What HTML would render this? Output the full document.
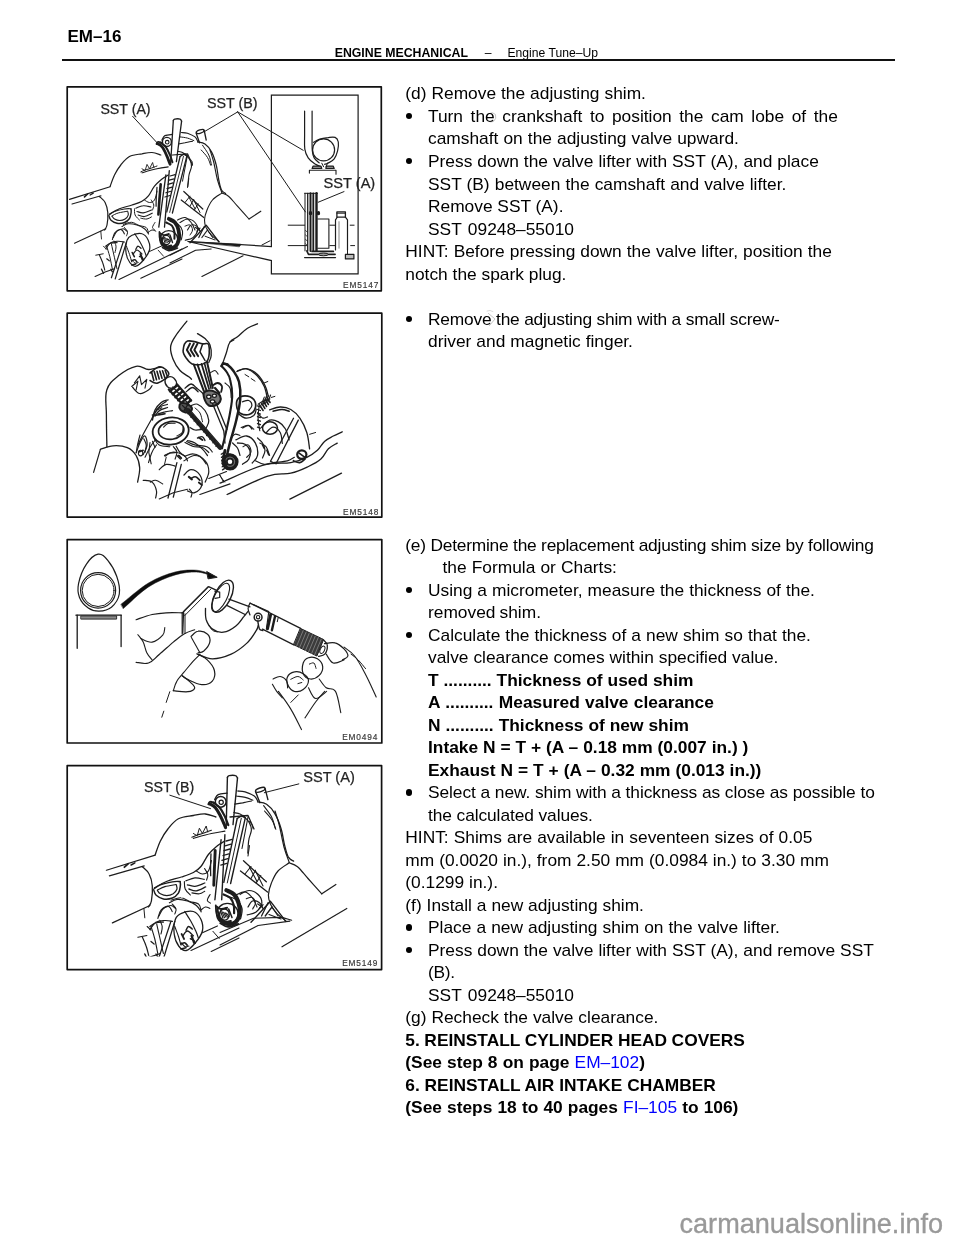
<!DOCTYPE html>
<html><head><meta charset="utf-8"><title>EM-16</title>
<style>
html,body{margin:0;padding:0;background:#fff;}
body{width:960px;height:1242px;position:relative;overflow:hidden;font-family:"Liberation Sans",sans-serif;color:#000;}
.t{position:absolute;white-space:pre;font-size:17.35px;line-height:22.0px;height:22.0px;}
.bu{position:absolute;width:6.7px;height:6.7px;border-radius:50%;background:#000;}
.h1{position:absolute;left:67.5px;top:26.71px;font-size:17px;line-height:20px;font-weight:bold;white-space:pre;}
.h2{position:absolute;left:334.7px;top:45.54px;font-size:12.3px;line-height:14px;font-weight:bold;white-space:pre;}
.h3{position:absolute;left:484.7px;top:45.59px;font-size:12.15px;line-height:14px;white-space:pre;}
.h4{position:absolute;left:507.5px;top:45.59px;font-size:12.15px;line-height:14px;white-space:pre;}
.rule{position:absolute;left:62px;top:59.2px;width:832.5px;height:1.7px;background:#111;}
.wm{position:absolute;left:679.5px;top:1209.44px;font-size:27.1px;line-height:30px;color:#999;-webkit-text-stroke:0.35px #999;white-space:pre;}
svg{position:absolute;left:0;top:0;}
#pg{position:absolute;left:0;top:0;width:960px;height:1242px;will-change:transform;}
</style></head><body><div id="pg">
<div class="h1">EM–16</div>
<div class="h2">ENGINE MECHANICAL</div>
<div class="h3">–</div>
<div class="h4">Engine Tune–Up</div>
<div class="rule"></div>
<svg width="960" height="1242" viewBox="0 0 960 1242" style="font-family:'Liberation Sans',sans-serif" stroke-linecap="round" stroke-linejoin="round">
<defs><filter id="soft" filterUnits="userSpaceOnUse" x="50" y="70" width="350" height="920"><feGaussianBlur stdDeviation="0.38"/></filter></defs>
<g filter="url(#soft)">
<g id="fig1">

<path d="M187.9,241.5 L271.4,246.5 L271.4,95.1 L358.1,95.1 L358.1,273.9 L271.4,273.9 L271.4,260.6 Z" fill="#fff" stroke="#1c1c1c" stroke-width="1.2" stroke-linejoin="miter"/>
<path d="M187.9,241.5 L241.2,244.3 L239.5,246.5 Z" fill="#1c1c1c" stroke="#1c1c1c" stroke-width="0.6"/>
<text x="100.4" y="113.8" style="font-size:14.2px;letter-spacing:0px;" fill="#222" stroke="#222" stroke-width="0.25">SST (A)</text>
<text x="207" y="107.6" style="font-size:14.3px;letter-spacing:0px;" fill="#222" stroke="#222" stroke-width="0.25">SST (B)</text>
<text x="323.6" y="188.4" style="font-size:14.6px;letter-spacing:0px;" fill="#222" stroke="#222" stroke-width="0.25">SST (A)</text>
<text x="343.1" y="288.2" style="font-size:8.3px;letter-spacing:0.85px;" fill="#3a3a3a" stroke="#3a3a3a" stroke-width="0.18">EM5147</text>
<path d="M132.6,116.3 L158.3,144.1" fill="none" stroke="#1c1c1c" stroke-width="1"/>
<path d="M237.7,111.9 L204.3,131.7" stroke="#1c1c1c" stroke-width="1" fill="none"/>
<path d="M237.7,111.9 L303.2,150.3" fill="none" stroke="#1c1c1c" stroke-width="1"/>
<path d="M237.7,111.9 L305.4,211.9" fill="none" stroke="#1c1c1c" stroke-width="1"/>
<path d="M344,191.6 L318.3,202.2" fill="none" stroke="#1c1c1c" stroke-width="1"/>
<path d="M304.6,111 C304.6,115 304.6,126.1 304.6,133.1 C304.7,140.1 304.2,144.5 304.8,149.1 C305.5,153.6 306.4,155.2 308.2,157.9 C310,160.6 312.4,162.1 314.7,163.8 C317.1,165.4 319.8,166.2 320.9,166.8" fill="none" stroke="#1c1c1c" stroke-width="1.2"/>
<path d="M312.1,111 C312.1,115 312.1,125.8 312.1,133.1 C312.1,140.4 311.9,146.3 312.3,150.8 C312.7,155.4 312.9,155.7 314.2,157.9 C315.5,160.1 318.3,162 319.2,162.9" fill="none" stroke="#1c1c1c" stroke-width="1.2"/>
<ellipse cx="323.6" cy="149.9" rx="11" ry="11" transform="rotate(0 323.6 149.9)" fill="none" stroke="#1c1c1c" stroke-width="1.2"/>
<path d="M313.5,142.3 C314.5,141.8 316.5,140.2 319.2,139.3 C321.8,138.4 325.1,137.9 328,137.6 C330.9,137.2 333.2,136.6 335.1,137.4 C337,138.2 337.8,139.5 338.3,142 C338.7,144.4 338.3,147.7 337.6,150.8 C336.8,153.9 336,156.5 334.2,158.8 C332.5,161.1 329.8,162.2 328,163.2 C326.2,164.2 325.1,164.1 324.5,164.3" fill="none" stroke="#1c1c1c" stroke-width="1.2"/>
<path d="M313,166.2 L320.9,166.2 L321.8,168.5 L312.1,168.5 Z" fill="#888" stroke="#1c1c1c" stroke-width="1.2"/>
<path d="M326.2,166.2 L333.3,166.2 L334.2,168.5 L325.9,168.5 Z" fill="#888" stroke="#1c1c1c" stroke-width="1.2"/>
<path d="M309.4,173.1 L309.4,170.3 L336,170.3 L336,174.2" fill="none" stroke="#1c1c1c" stroke-width="1.1"/>
<path d="M321.8,163.2 L323.6,166.8" fill="none" stroke="#1c1c1c" stroke-width="1"/>
<path d="M327.5,162.9 L326.2,166.8" fill="none" stroke="#1c1c1c" stroke-width="1"/>
<path d="M305,193.3 L305,250.9" fill="none" stroke="#1c1c1c" stroke-width="1"/>
<path d="M307.7,193.3 L307.7,250.9" fill="none" stroke="#1c1c1c" stroke-width="1.3"/>
<path d="M310.5,193.3 L310.5,250.9" fill="none" stroke="#1c1c1c" stroke-width="2"/>
<path d="M313.3,193.3 L313.3,250.9" fill="none" stroke="#1c1c1c" stroke-width="1.8"/>
<path d="M316.5,193.3 L316.5,250.9" fill="none" stroke="#1c1c1c" stroke-width="2.4"/>
<path d="M304.6,193.3 L317.4,193.3" fill="none" stroke="#1c1c1c" stroke-width="1"/>
<path d="M288.2,225.2 L304.6,225.2" fill="none" stroke="#1c1c1c" stroke-width="1"/>
<path d="M288.2,245.6 L306.8,245.6" fill="none" stroke="#1c1c1c" stroke-width="1"/>
<path d="M350.2,225.2 L354.1,225.2" fill="none" stroke="#1c1c1c" stroke-width="1"/>
<path d="M350.7,245.6 L354.6,245.6" fill="none" stroke="#1c1c1c" stroke-width="1"/>
<path d="M317.8,219 L328.9,219 L328.9,248.2 L317.8,248.2" fill="none" stroke="#1c1c1c" stroke-width="1.1"/>
<path d="M329.8,225.2 L335.1,225.2" fill="none" stroke="#1c1c1c" stroke-width="1"/>
<path d="M329.8,245.6 L335.1,245.6" fill="none" stroke="#1c1c1c" stroke-width="1"/>
<path d="M335.5,250 L335.5,219.9 L337.2,217.2 L345.4,217.2 L347.5,219.9 L347.5,250" fill="none" stroke="#1c1c1c" stroke-width="1.2"/>
<path d="M336.9,217.2 L336.9,211.9 L345.4,211.9 L345.4,217.2" fill="none" stroke="#1c1c1c" stroke-width="1.3"/>
<path d="M336.9,213.2 L345.4,213.2" fill="none" stroke="#1c1c1c" stroke-width="1"/>
<path d="M339,221.7 L339,248.2" fill="none" stroke="#666" stroke-width="0.8"/>
<path d="M306.8,250.9 L308.5,254.4 L335.1,254.4" fill="none" stroke="#1c1c1c" stroke-width="1.6"/>
<path d="M304.6,257.6 L335.5,257.6" fill="none" stroke="#1c1c1c" stroke-width="1.3"/>
<path d="M312.1,251.4 L333.3,251.4" fill="none" stroke="#1c1c1c" stroke-width="1.8"/>
<ellipse cx="323.6" cy="254.4" rx="5" ry="1.4" transform="rotate(0 323.6 254.4)" fill="#999" stroke="#1c1c1c" stroke-width="1"/>
<path d="M345.4,254.4 L353.9,254.4 L353.9,258.9 L345.4,258.9 Z" fill="#bbb" stroke="#1c1c1c" stroke-width="1.2"/>
<path d="M347.5,250 L347.5,254.4" fill="none" stroke="#1c1c1c" stroke-width="1"/>
<ellipse cx="310.5" cy="213.2" rx="1.2" ry="1.6" transform="rotate(0 310.5 213.2)" fill="#1c1c1c" stroke="#1c1c1c" stroke-width="1.1"/>
<ellipse cx="318.5" cy="213.2" rx="1.1" ry="1.6" transform="rotate(0 318.5 213.2)" fill="#1c1c1c" stroke="#1c1c1c" stroke-width="1.1"/>
<path d="M305.5,230.5 L307.1,231.9" fill="none" stroke="#1c1c1c" stroke-width="0.8"/>
<path d="M305.5,234.9 L307.1,236.4" fill="none" stroke="#1c1c1c" stroke-width="0.8"/>
<path d="M305.5,239.4 L307.1,240.8" fill="none" stroke="#1c1c1c" stroke-width="0.8"/>
<path d="M305.5,243.8 L307.1,245.2" fill="none" stroke="#1c1c1c" stroke-width="0.8"/>
<path d="M173.3,120.6 L170.6,163.8" fill="none" stroke="#1c1c1c" stroke-width="1.3"/>
<path d="M181.6,121.2 L176.4,161.7" fill="none" stroke="#1c1c1c" stroke-width="1.3"/>
<path d="M173.3,120.6 C173.5,120.3 173.6,119.4 174.8,119.1 C176.1,118.8 178.8,118.7 180.1,119.1 C181.3,119.5 181.3,120.8 181.6,121.2" fill="none" stroke="#1c1c1c" stroke-width="1.3"/>
<path d="M165.9,174.8 L158.8,227.1" fill="none" stroke="#1c1c1c" stroke-width="1.3"/>
<path d="M169.3,170.6 L164.5,227.1" fill="none" stroke="#1c1c1c" stroke-width="1.3"/>
<path d="M180.1,156.5 L166.8,211.9" fill="none" stroke="#1c1c1c" stroke-width="1.3"/>
<path d="M186.9,155.9 L172.4,213" fill="none" stroke="#1c1c1c" stroke-width="1.3"/>
<path d="M183.5,156.2 L169.7,212.4" fill="none" stroke="#1c1c1c" stroke-width="0.9"/>
<path d="M180.1,156.5 L183.7,154.1 L186.9,155.9" fill="none" stroke="#1c1c1c" stroke-width="1.3"/>
<ellipse cx="166.9" cy="141.9" rx="4.5" ry="4.5" transform="rotate(0 166.9 141.9)" fill="none" stroke="#1c1c1c" stroke-width="1.4"/>
<ellipse cx="167.2" cy="142.2" rx="1.8" ry="1.8" transform="rotate(0 167.2 142.2)" fill="none" stroke="#1c1c1c" stroke-width="1.1"/>
<path d="M161.9,140 C162.4,139.2 163.1,136.7 165,135.6 C166.9,134.6 171.1,134.6 172.5,134.4" fill="none" stroke="#1c1c1c" stroke-width="1.2"/>
<path d="M157.3,143.6 C158.2,144.2 160.6,145 162.3,147.1 C163.9,149.1 165,151.7 166.4,154.9 C167.9,158.1 169.4,162.6 170.1,164.3" fill="none" stroke="#1c1c1c" stroke-width="2.8"/>
<path d="M160.7,142.6 C161.7,143.4 164.2,144.8 165.9,147.1 C167.6,149.3 168.7,152.1 169.9,154.9 C171.1,157.7 172,160.9 172.4,162.2" fill="none" stroke="#1c1c1c" stroke-width="2"/>
<path d="M156.5,144 C156.8,143.6 157.3,142.1 158.1,141.9 C159,141.6 160.7,142.6 161.2,142.8" fill="none" stroke="#1c1c1c" stroke-width="1.7"/>
<path d="M181.5,132.5 C182.6,132.6 185,132.4 187.5,133.2 C190,134.1 193.1,135.4 195,136.9 C196.9,138.4 197.2,140.7 197.8,141.5" fill="none" stroke="#1c1c1c" stroke-width="1.2"/>
<path d="M178.5,144 C179.7,143.8 182.4,143.3 185,142.8 C187.6,142.2 191.1,141.5 192.5,141.2" fill="none" stroke="#1c1c1c" stroke-width="1.1"/>
<path d="M180,136.9 C181.4,137.1 185,137.4 187.5,138.1 C190,138.8 192.6,140.2 193.8,140.6" fill="none" stroke="#1c1c1c" stroke-width="1"/>
<path d="M177.5,151.2 C178.4,151.5 180.9,151.8 182.5,152.5 C184.1,153.2 185.6,154.5 186.2,155" fill="none" stroke="#1c1c1c" stroke-width="1.1"/>
<ellipse cx="200.2" cy="131.5" rx="4.1" ry="1.6" transform="rotate(-18 200.2 131.5)" fill="none" stroke="#1c1c1c" stroke-width="1.3"/>
<path d="M196.2,133.2 L199.5,142.8" fill="none" stroke="#1c1c1c" stroke-width="1.3"/>
<path d="M204.2,130.5 L206.2,140" fill="none" stroke="#1c1c1c" stroke-width="1.3"/>
<path d="M197.5,141.9 C198.9,142.3 202.4,142.2 205,144 C207.6,145.8 209.4,148 211.5,151.9 C213.6,155.7 214.9,159.8 216.2,165 C217.6,170.2 217.8,175.4 218.8,180 C219.7,184.6 220.2,187.5 221.5,190 C222.8,192.5 224.9,192.9 225.6,193.5" fill="none" stroke="#1c1c1c" stroke-width="1.2"/>
<path d="M202.5,145.2 C203.6,147 207.1,151.4 208.8,155 C210.4,158.6 211,163.2 211.5,165" fill="none" stroke="#1c1c1c" stroke-width="1"/>
<path d="M185,153.8 C185.9,154.9 188.8,157.7 190,160 C191.2,162.3 191.7,163.8 191.5,166.5 C191.3,169.2 189.7,171.3 189,175 C188.3,178.7 188,184.4 187.8,186.5" fill="none" stroke="#1c1c1c" stroke-width="1.1"/>
<path d="M190,158.8 C190.5,159.4 192.2,161.2 192.5,162.5 C192.8,163.8 192,165.1 191.9,165.6" fill="none" stroke="#1c1c1c" stroke-width="0.9"/>
<path d="M210,150 C210.7,152.3 212.4,157 213.8,162.5 C215.1,168 216,174.5 217.5,180 C219,185.5 221.1,190.4 221.9,192.8" fill="none" stroke="#1c1c1c" stroke-width="1.1"/>
<path d="M201.2,150 C202.4,151.4 205.8,154.7 207.5,157.5 C209.2,160.3 210.1,163.8 210.6,165.2" fill="none" stroke="#1c1c1c" stroke-width="1"/>
<path d="M221.9,193.1 C223.1,193.7 225.9,194.1 228.8,196.5 C231.6,198.9 233.8,202.1 237.5,206.2 C241.2,210.4 246.9,216.7 249,219" fill="none" stroke="#1c1c1c" stroke-width="1.1"/>
<path d="M249,219 L260.8,211.2" fill="none" stroke="#1c1c1c" stroke-width="1.1"/>
<path d="M221.9,193.1 C220.2,194.4 215.2,196.9 212.5,200 C209.8,203.1 208.5,206.3 207,210 C205.5,213.7 204.6,216.7 204.5,220 C204.4,223.3 205,225 206.2,227.8 C207.5,230.5 209.2,232.7 211.5,235.2 C213.8,237.8 217.6,240.4 219,241.5" fill="none" stroke="#1c1c1c" stroke-width="1.1"/>
<path d="M190,242.8 L206.2,225.2 L219,242" fill="none" stroke="#1c1c1c" stroke-width="1.3"/>
<path d="M198.8,237.5 L204.4,226.2" fill="none" stroke="#1c1c1c" stroke-width="1.2"/>
<path d="M201.9,237.5 L207.5,230" fill="none" stroke="#1c1c1c" stroke-width="1.2"/>
<path d="M207.5,230 L212.5,237.5" fill="none" stroke="#1c1c1c" stroke-width="1"/>
<path d="M205,236.2 L215,240" fill="none" stroke="#1c1c1c" stroke-width="1"/>
<path d="M181.2,200 L203.8,217.5" fill="none" stroke="#1c1c1c" stroke-width="1.2"/>
<path d="M183.8,191.5 L202.8,209" fill="none" stroke="#1c1c1c" stroke-width="1.2"/>
<path d="M185,202.5 L190,196.2" fill="none" stroke="#1c1c1c" stroke-width="1"/>
<path d="M190,206.2 L193.8,199.4" fill="none" stroke="#1c1c1c" stroke-width="1"/>
<path d="M194.4,210 L198.1,203.8" fill="none" stroke="#1c1c1c" stroke-width="1"/>
<path d="M188.8,196.9 L195,208.8" fill="none" stroke="#1c1c1c" stroke-width="1"/>
<path d="M193.8,200 L200,212.5" fill="none" stroke="#1c1c1c" stroke-width="1"/>
<path d="M177.5,220 C178.9,219.5 182.5,217 185,217.5 C187.5,218 189.4,220.2 191.2,222.5 C193.1,224.8 194.3,228.6 195,230" fill="none" stroke="#1c1c1c" stroke-width="1.1"/>
<path d="M187.5,230 C188.2,229.1 189.5,225.7 191.2,225 C193,224.3 195.3,225.1 196.9,226.2 C198.5,227.4 199.4,230.3 200,231.2" fill="none" stroke="#1c1c1c" stroke-width="1.1"/>
<path d="M170,221.2 C171.4,221.7 175.2,221.9 177.5,223.8 C179.8,225.6 181.8,228.3 182.5,231.2 C183.2,234.2 181.5,238.4 181.2,240" fill="none" stroke="#1c1c1c" stroke-width="1.1"/>
<path d="M195.6,227.5 L199.4,230" fill="none" stroke="#1c1c1c" stroke-width="1.4"/>
<path d="M196.9,231.2 L200,228.1" fill="none" stroke="#1c1c1c" stroke-width="1.2"/>
<path d="M201.9,276.5 L243.1,255.8" fill="none" stroke="#1c1c1c" stroke-width="1.1"/>
<path d="M261.9,245 L270,240.8" fill="none" stroke="#1c1c1c" stroke-width="1"/>
<path d="M170,263.1 L195.6,250.2 L211.2,249" fill="none" stroke="#1c1c1c" stroke-width="1.1"/>
<path d="M170,255.2 L187.5,246.5" fill="none" stroke="#1c1c1c" stroke-width="1.1"/>
<path d="M172.5,155 L187.5,153.8 L192.5,165" fill="none" stroke="#1c1c1c" stroke-width="1.2"/>
<path d="M187.5,155 L182.5,181.2" fill="none" stroke="#1c1c1c" stroke-width="1"/>
<path d="M188.8,178.8 L187.5,187.5" fill="none" stroke="#1c1c1c" stroke-width="1"/>
<path d="M110.1,186.5 C110.9,184.4 112.6,178.9 114.5,175 C116.4,171.1 118,168.4 120.8,165 C123.5,161.6 125.6,158.6 129.5,156.5 C133.4,154.4 137.9,154.5 142,153.8 C146.1,153 148.6,152.3 152,152.5 C155.4,152.7 159.1,154.5 160.8,155" fill="none" stroke="#1c1c1c" stroke-width="1.2"/>
<path d="M142,172.8 C144.8,172 152.2,169.8 157,168.8 C161.8,167.7 166.2,167.2 168.2,166.9" fill="none" stroke="#1c1c1c" stroke-width="1.1"/>
<path d="M140.8,171.9 C141.6,171.5 143.5,170.6 145.1,170 C146.7,169.4 147.3,169.5 149.5,168.8 C151.7,168 155.6,166.5 157,166" fill="none" stroke="#1c1c1c" stroke-width="1"/>
<path d="M142,168.8 L145.1,170.6 L147,164.4 L149.5,168.8 L152.6,162.5 L153.9,167.5" fill="none" stroke="#1c1c1c" stroke-width="0.9"/>
<path d="M109.5,214 C111.3,213 115.4,210.4 119.5,208.8 C123.6,207.1 127.9,206.4 132,205 C136.1,203.6 139,202.9 142,201.2 C145,199.6 146,199 148.2,196.2 C150.5,193.5 152,189.4 154.5,186.2 C157,183.1 159.5,181.1 162,179 C164.5,176.9 167.1,175.7 168.2,175" fill="none" stroke="#1c1c1c" stroke-width="1.2"/>
<path d="M144.5,200 C145.4,200.5 147.7,202.5 149.5,202.5 C151.3,202.5 153.1,202.1 154.5,200 C155.9,197.9 156.5,192.9 157,191.2" fill="none" stroke="#1c1c1c" stroke-width="1"/>
<path d="M99.5,196.5 C100.5,197.6 103.6,199.6 105.1,202.5 C106.6,205.4 107.4,208.4 107.8,212.5 C108.1,216.6 107.6,221.8 107,225 C106.4,228.2 105,229.1 104.5,230" fill="none" stroke="#1c1c1c" stroke-width="1.2"/>
<path d="M69.5,199.4 L110.1,186.8" fill="none" stroke="#1c1c1c" stroke-width="1.1"/>
<path d="M72,204 L101,195.8" fill="none" stroke="#1c1c1c" stroke-width="1.1"/>
<path d="M74.5,243.2 L105.8,228.8" fill="none" stroke="#1c1c1c" stroke-width="1.1"/>
<path d="M100.8,231.2 L101.5,239" fill="none" stroke="#1c1c1c" stroke-width="0.9"/>
<path d="M84.5,196.9 L87.6,194" fill="none" stroke="#1c1c1c" stroke-width="1.6"/>
<path d="M90.1,195 L93.2,193.1" fill="none" stroke="#1c1c1c" stroke-width="1.4"/>
<path d="M108.9,215.2 C109.9,214.6 111.6,212.6 114.5,211.5 C117.4,210.4 121.5,209.5 124.5,209 C127.5,208.5 129.8,208.8 131,208.8" fill="none" stroke="#1c1c1c" stroke-width="1.2"/>
<path d="M109,216 C109.4,216.8 109.5,218.9 111,220.2 C112.5,221.6 114.5,222.8 117,223.2 C119.5,223.7 122.2,223.4 124.5,222.5 C126.8,221.6 128.3,220.3 129.5,218.5 C130.7,216.7 130.8,214.2 131.1,212.5 C131.4,210.8 131,209.6 131,209" fill="none" stroke="#1c1c1c" stroke-width="1.4"/>
<path d="M112,215.9 C113.1,215.3 115.4,213.8 118.2,213 C121.1,212.2 125.8,211.6 127.5,211.2" fill="none" stroke="#1c1c1c" stroke-width="1"/>
<path d="M112,216.2 C112.5,216.8 113.1,218.2 114.5,219 C115.9,219.8 117.8,220.5 119.8,220.5 C121.7,220.5 123.6,220 125.1,219 C126.7,218 127.8,216.6 128.2,215.2 C128.7,213.9 127.8,212.2 127.8,211.5" fill="none" stroke="#1c1c1c" stroke-width="1.1"/>
<path d="M135.8,208.2 C137.1,207.8 140.5,206 143.2,205.8 C146,205.5 149.6,206.8 151,207" fill="none" stroke="#1c1c1c" stroke-width="1.1"/>
<path d="M137,211.5 C138.1,211.7 140.6,213 143.2,212.8 C145.9,212.5 150,210.5 151.5,210" fill="none" stroke="#1c1c1c" stroke-width="1.2"/>
<path d="M138.2,215 C139.4,215.3 141.9,216.8 144.5,216.5 C147.1,216.2 150.8,213.8 152.2,213.2" fill="none" stroke="#1c1c1c" stroke-width="1.2"/>
<path d="M140.8,218.2 C141.9,218.4 145.1,219.3 147,219 C148.9,218.7 150.6,217.3 151.4,216.9" fill="none" stroke="#1c1c1c" stroke-width="1"/>
<path d="M134.5,208.8 C134.6,209.9 134.2,212.9 135.1,215 C136,217.1 138.7,219.1 139.5,220" fill="none" stroke="#1c1c1c" stroke-width="1"/>
<path d="M122,226.5 C123.1,226 125.5,224 128.2,223.8 C131,223.5 134,224.1 137,225 C140,225.9 142.4,227.1 144.5,228.8 C146.6,230.4 147.8,233 148.5,234" fill="none" stroke="#1c1c1c" stroke-width="1.1"/>
<path d="M113.2,237.5 C113.9,236.4 115.2,232.9 117,231.2 C118.8,229.6 121.4,228.8 123.2,228.8 C125.1,228.8 126.3,230.8 127,231.2" fill="none" stroke="#1c1c1c" stroke-width="1.1"/>
<path d="M105.8,248.8 C106.7,247.7 108.5,244.1 110.8,242.8 C113,241.4 115.7,241.4 118.2,241.2 C120.8,241.1 123.4,241.9 124.5,242" fill="none" stroke="#1c1c1c" stroke-width="1.1"/>
<path d="M95.8,255.2 L103.2,253.8" fill="none" stroke="#1c1c1c" stroke-width="1"/>
<path d="M99.5,255.2 C100.1,256.6 101.7,259.8 102.6,262.5 C103.6,265.2 104.4,268.8 104.8,270.2" fill="none" stroke="#1c1c1c" stroke-width="1.1"/>
<path d="M95.1,276.5 L105.1,272 L114.5,268.8" fill="none" stroke="#1c1c1c" stroke-width="1.1"/>
<path d="M111.4,244 C111.9,246.5 113.5,253.2 114.5,257.8 C115.5,262.3 116.5,266.7 117,268.8" fill="none" stroke="#1c1c1c" stroke-width="1"/>
<path d="M123.2,242 L111.4,277.8" fill="none" stroke="#1c1c1c" stroke-width="1.2"/>
<path d="M126.5,242 L115.2,279" fill="none" stroke="#1c1c1c" stroke-width="1.2"/>
<path d="M127,240.2 C128.1,237.1 129.2,236.4 132,235.2 C134.8,234.1 139,232.8 142,233.8 C145,234.7 146.9,237.3 148.2,240.2 C149.6,243.2 150.4,246.4 149.5,250 C148.6,253.6 146,257 143.5,260 C141,263 138.5,265.8 136,266.2 C133.5,266.7 131.6,265 129.8,262.5 C127.9,260 126.5,256.6 126,252.5 C125.5,248.4 125.9,243.4 127,240.2 Z" fill="none" stroke="#1c1c1c" stroke-width="1.2"/>
<path d="M133.2,254 C133.9,253.3 135.4,250 137,250 C138.6,250 141.1,253.3 142,254" fill="none" stroke="#1c1c1c" stroke-width="1.2"/>
<path d="M139.5,256.5 C140,256.7 141.3,256.8 142,257.5 C142.7,258.2 143.2,259.7 143.5,260.2" fill="none" stroke="#1c1c1c" stroke-width="1.4"/>
<path d="M132,260 C132.6,260.6 134,262.7 135.1,263.1 C136.3,263.6 137.7,262.6 138.2,262.5" fill="none" stroke="#1c1c1c" stroke-width="1"/>
<path d="M148.2,232.5 C148.9,232 150.6,230.2 152,230 C153.4,229.8 155.1,231 155.8,231.2" fill="none" stroke="#1c1c1c" stroke-width="1"/>
<path d="M105.6,246.2 C106.6,245.7 108.7,243.8 110.8,243.1 C112.9,242.5 115.9,242.7 117.1,242.6" fill="none" stroke="#1c1c1c" stroke-width="1.1"/>
<path d="M112.4,239.5 C112.9,238.2 113.4,234.5 115,232.7 C116.6,230.9 119.5,229.4 121.2,229.6 C123,229.8 123.8,233 124.4,233.8" fill="none" stroke="#1c1c1c" stroke-width="1.1"/>
<path d="M106.7,246.2 C107.2,248.2 108.7,252.5 109.8,256.7 C110.8,260.9 111.9,266.9 112.4,269.2" fill="none" stroke="#1c1c1c" stroke-width="1"/>
<path d="M134.8,233.8 C135.7,235.3 138.3,239 140,242.1 C141.7,245.1 143,247.8 144.2,250.4 C145.3,253 145.9,255.1 146.2,256.1" fill="none" stroke="#1c1c1c" stroke-width="1.1"/>
<path d="M140.5,254.1 L142.6,259.8" fill="none" stroke="#1c1c1c" stroke-width="2"/>
<path d="M132.2,252.5 L134.3,256.7" fill="none" stroke="#1c1c1c" stroke-width="1.6"/>
<path d="M131.7,265 L135.8,264" fill="none" stroke="#1c1c1c" stroke-width="1.4"/>
<path d="M123.3,224.4 C124.9,224 128.8,222.1 131.7,222.3 C134.5,222.5 136.3,224.5 139,225.4 C141.6,226.4 144.5,226.2 146.2,227.5 C148,228.8 148,231.8 148.3,232.7" fill="none" stroke="#1c1c1c" stroke-width="1"/>
<path d="M101.5,269.2 L103.5,273.3" fill="none" stroke="#1c1c1c" stroke-width="1.3"/>
<path d="M110.8,269.2 L112.4,271.8" fill="none" stroke="#1c1c1c" stroke-width="1.3"/>
<path d="M114,241 C114.3,242 115.9,244.1 116,246.2 C116.2,248.4 115.2,251.4 115,252.5" fill="none" stroke="#1c1c1c" stroke-width="1"/>
<path d="M126.5,246.2 C127,247.8 128.6,251.7 129.6,254.6 C130.5,257.4 131.3,260.5 131.7,261.9" fill="none" stroke="#1c1c1c" stroke-width="1"/>
<path d="M135.8,249.4 C136.2,248.8 137,246.4 137.9,246.2 C138.9,246.1 140.5,248 141,248.3" fill="none" stroke="#1c1c1c" stroke-width="1.3"/>
<path d="M131.7,260.8 C132.2,260.6 133.8,259.6 134.8,259.8 C135.7,260 136.5,261.5 136.9,261.9" fill="none" stroke="#1c1c1c" stroke-width="1.5"/>
<path d="M106.7,258.8 L109.3,260.8" fill="none" stroke="#1c1c1c" stroke-width="1.2"/>
<path d="M103.5,246.2 L106.7,249.4" fill="none" stroke="#1c1c1c" stroke-width="1"/>
<path d="M124.4,227.5 C124.9,228.3 127.1,230.1 127.5,231.7 C127.9,233.2 126.6,235.1 126.5,235.8" fill="none" stroke="#1c1c1c" stroke-width="1"/>
<path d="M119,279.5 L182,249" fill="none" stroke="#1c1c1c" stroke-width="1.1"/>
<path d="M140.8,278.2 L182,259" fill="none" stroke="#1c1c1c" stroke-width="1.1"/>
<path d="M149.5,251.5 L162,245.8" fill="none" stroke="#1c1c1c" stroke-width="1"/>
<path d="M158.2,250.2 L163.5,256.2" fill="none" stroke="#1c1c1c" stroke-width="0.9"/>
<path d="M160.7,184.2 C160.5,187.1 159.9,194.3 159.4,199.9 C159,205.5 158.6,211.9 158.4,214.5" fill="none" stroke="#1c1c1c" stroke-width="2.6"/>
<path d="M157,187.3 C156.9,189.3 156.5,194.3 156.3,197.8 C156.1,201.3 156.1,204.6 156.1,206.2" fill="none" stroke="#1c1c1c" stroke-width="1.2"/>
<path d="M170.1,176 L175.1,174.6" fill="none" stroke="#1c1c1c" stroke-width="1.2"/>
<path d="M169.1,180.2 L174.1,178.8" fill="none" stroke="#1c1c1c" stroke-width="1.2"/>
<path d="M168,184.4 L173,182.9" fill="none" stroke="#1c1c1c" stroke-width="1.2"/>
<path d="M167,188.6 L172,187.1" fill="none" stroke="#1c1c1c" stroke-width="1.2"/>
<path d="M165.9,192.8 L170.9,191.3" fill="none" stroke="#1c1c1c" stroke-width="1.2"/>
<path d="M164.9,197 L169.9,195.5" fill="none" stroke="#1c1c1c" stroke-width="1.2"/>
<path d="M151.2,200 C151.7,200.9 153.5,203.2 153.8,205 C154,206.8 152.7,209.1 152.5,210" fill="none" stroke="#1c1c1c" stroke-width="1"/>
<ellipse cx="168.8" cy="239.4" rx="9" ry="8.8" transform="rotate(0 168.8 239.4)" fill="none" stroke="#1c1c1c" stroke-width="1.3"/>
<path d="M168.8,218.8 C169.9,219.4 173.2,220.4 175,222.5 C176.8,224.6 177.8,227 178.5,230 C179.2,233 179.6,235.7 179,238.8 C178.4,241.8 177.3,244.8 175.2,246.5 C173.2,248.2 170.1,248.5 167.8,248 C165.4,247.5 163.5,244.7 162.5,244" fill="none" stroke="#1c1c1c" stroke-width="3.8"/>
<path d="M160,233.1 C160.7,233.5 162.1,235.1 163.8,235.2 C165.4,235.4 167.8,234.2 168.8,234" fill="none" stroke="#1c1c1c" stroke-width="1.8"/>
<path d="M163.1,244.4 C163.8,244.8 165.4,246.3 166.9,246.5 C168.4,246.7 170.4,245.8 171.2,245.6" fill="none" stroke="#1c1c1c" stroke-width="2.2"/>
<path d="M160.6,235 L161.9,242.5" fill="none" stroke="#1c1c1c" stroke-width="1.6"/>
<path d="M170,235 L172.5,242.5" fill="none" stroke="#1c1c1c" stroke-width="1.4"/>
<path d="M166.2,222.5 C167.3,223.1 170.4,223.9 171.9,225.6 C173.4,227.3 173.9,229.5 174.4,231.9 C174.8,234.3 174.4,237.5 174.4,238.8" fill="none" stroke="#1c1c1c" stroke-width="2"/>
<ellipse cx="166.2" cy="240" rx="4" ry="4.8" transform="rotate(0 166.2 240)" fill="none" stroke="#1c1c1c" stroke-width="1.4"/>
<path d="M163.1,236.9 L165,243.1" fill="none" stroke="#1c1c1c" stroke-width="1"/>
<path d="M164.4,237.4 L166.2,242.8" fill="none" stroke="#1c1c1c" stroke-width="1"/>
<path d="M165.6,237.9 L167.5,242.4" fill="none" stroke="#1c1c1c" stroke-width="1"/>
<path d="M166.9,238.4 L168.8,242" fill="none" stroke="#1c1c1c" stroke-width="1"/>
<path d="M168.1,238.9 L170,241.6" fill="none" stroke="#1c1c1c" stroke-width="1"/>
<path d="M159.4,231.9 C159.5,233.4 159,237.2 160,240 C161,242.8 164.1,245.6 165,246.9" fill="none" stroke="#1c1c1c" stroke-width="1.6"/>
<path d="M162.5,247.5 C163.6,248.1 166,250.5 168.8,250.6 C171.5,250.7 175.9,248.6 177.5,248.1" fill="none" stroke="#1c1c1c" stroke-width="1.6"/>
<path d="M180,222.5 C181.4,221.9 184.8,219 187.5,219 C190.2,219 193.1,220.4 195,222.5 C196.9,224.6 198.2,227.5 197.8,230.2 C197.3,233 195,235.9 192.8,237.8 C190.5,239.6 186.6,239.8 185.2,240.2" fill="none" stroke="#1c1c1c" stroke-width="1.1"/>
<path d="M185,226.2 C185.9,226 188.6,224.3 190,225 C191.4,225.7 192.5,228.2 192.5,230 C192.5,231.8 190.5,234.1 190,235" fill="none" stroke="#1c1c1c" stroke-width="1"/>
<path d="M155,222.5 C154.5,223.4 152.5,226.1 152.5,227.5 C152.5,228.9 154.5,229.5 155,230" fill="none" stroke="#1c1c1c" stroke-width="1"/>
</g>
<g id="fig2">

<text x="343.1" y="514.5" style="font-size:8.3px;letter-spacing:0.85px;" fill="#3a3a3a" stroke="#3a3a3a" stroke-width="0.18">EM5148</text>
<path d="M93.6,472.3 L100.4,449.3" fill="none" stroke="#1c1c1c" stroke-width="1.2"/>
<path d="M100.4,449.3 C102.7,448.7 108.2,446.1 113.1,445.8 C118.1,445.5 123.1,445.8 127.3,447.6 C131.5,449.3 133.9,451.8 136.1,455.5 C138.4,459.3 139.4,463 139.7,467.9 C139.9,472.8 138,479.5 137.6,482.1" fill="none" stroke="#1c1c1c" stroke-width="1.3"/>
<path d="M106.9,446.7 C106.8,440.8 106.4,425.2 106.4,414.8 C106.4,404.4 104.5,397.1 106.8,390 C109,382.9 113,380.2 118.4,375.8 C123.8,371.5 130.6,367.4 136.1,366.3 C141.7,365.1 144,369.3 148.5,369.5 C153.1,369.6 158.7,367.4 160.9,367" fill="none" stroke="#1c1c1c" stroke-width="1.3"/>
<path d="M132.6,387.3 C133.9,388.5 136.8,393.1 139.7,393.5 C142.6,394 146.3,391.5 148.5,390 C150.8,388.5 151.4,386.4 152.1,385.6" fill="none" stroke="#1c1c1c" stroke-width="1.2"/>
<path d="M134.4,382.9 L139.7,375.8 L141.5,384.7 L146.8,379.4 L145,388.2" fill="none" stroke="#1c1c1c" stroke-width="1.1"/>
<path d="M131.7,386.5 L137.9,381.1 L136.1,390" fill="none" stroke="#1c1c1c" stroke-width="1.1"/>
<path d="M137.9,444.9 C138.9,442.9 140.6,439.1 143.2,434.3 C145.8,429.4 149.2,423.4 152.1,418.3 C155,413.3 156.6,409.9 159.2,406.8 C161.8,403.7 165,402.5 166.2,401.5" fill="none" stroke="#1c1c1c" stroke-width="1.2"/>
<path d="M136.1,452.9 C137,450.8 138.9,444.4 140.6,441.4 C142.2,438.3 143.8,435.4 145,436 C146.2,436.7 147.4,441.5 147.1,444.9 C146.8,448.3 143.9,452.8 143.2,454.6" fill="none" stroke="#1c1c1c" stroke-width="1.2"/>
<path d="M145,457.3 C146,455.3 148.4,449.9 150.3,446.7 C152.3,443.4 154.7,440.9 155.6,439.6" fill="none" stroke="#1c1c1c" stroke-width="1.1"/>
<path d="M148.5,462.6 C149.2,460.7 150.6,455.2 152.1,452 C153.5,448.7 155.7,446.2 156.5,444.9" fill="none" stroke="#1c1c1c" stroke-width="1.1"/>
<path d="M138.8,452 L143.2,450.2" fill="none" stroke="#1c1c1c" stroke-width="1.5"/>
<path d="M152.1,418.3 C152.7,417 153.8,413.2 155.6,411.2 C157.4,409.3 160.7,408.4 161.8,407.7" fill="none" stroke="#1c1c1c" stroke-width="1.1"/>
<ellipse cx="170.7" cy="431.1" rx="18.1" ry="13.5" transform="rotate(-8 170.7 431.1)" fill="none" stroke="#1c1c1c" stroke-width="1.8"/>
<ellipse cx="171.2" cy="430.4" rx="12.8" ry="8.9" transform="rotate(-8 171.2 430.4)" fill="none" stroke="#1c1c1c" stroke-width="1.6"/>
<path d="M163.6,427.2 C164.4,426.5 165.9,424.4 168,423.6 C170.1,422.9 173.8,423.4 175.1,423.3" fill="none" stroke="#1c1c1c" stroke-width="1.1"/>
<path d="M176.9,436 C177.8,435.4 181.1,434.1 182.2,432.5 C183.3,430.9 182.9,428.2 183.1,427.2" fill="none" stroke="#1c1c1c" stroke-width="1.1"/>
<path d="M153.9,437.8 C154.8,439.1 156.2,443.3 159.2,444.9 C162.1,446.5 167.8,446.3 169.8,446.7" fill="none" stroke="#1c1c1c" stroke-width="1.1"/>
<path d="M150,373 C151.8,371.9 156.6,366.5 160,366.8 C163.4,367 169.2,371.3 168.8,374.2 C168.3,377.2 161.2,381.9 157.8,383 C154.3,384.1 151.4,381 150,380.5" fill="none" stroke="#1c1c1c" stroke-width="1.5"/>
<path d="M151.5,371.8 L153.8,380.5" fill="none" stroke="#1c1c1c" stroke-width="1.6"/>
<path d="M154.2,371.5 L156.5,379.8" fill="none" stroke="#1c1c1c" stroke-width="1.6"/>
<path d="M157,371.2 L159.2,379" fill="none" stroke="#1c1c1c" stroke-width="1.6"/>
<path d="M159.8,371 L162,378.2" fill="none" stroke="#1c1c1c" stroke-width="1.6"/>
<path d="M162.5,370.8 L164.8,377.5" fill="none" stroke="#1c1c1c" stroke-width="1.6"/>
<path d="M165.2,370.5 L167.5,376.8" fill="none" stroke="#1c1c1c" stroke-width="1.6"/>
<path d="M165,380.5 C165.2,378.7 167.1,377.2 168.8,376.8 C170.4,376.3 172.6,376.9 174,378.2 C175.4,379.6 176.8,382.5 176.5,384.2 C176.2,386 174.2,387.5 172.5,388 C170.8,388.5 168.9,388.1 167.5,386.8 C166.1,385.4 164.8,382.3 165,380.5 Z" fill="none" stroke="#1c1c1c" stroke-width="1.3"/>
<path d="M168.8,389.5 L186.2,408.2" fill="none" stroke="#1c1c1c" stroke-width="2.2"/>
<path d="M176.9,384.2 L191.2,400.5" fill="none" stroke="#1c1c1c" stroke-width="2.2"/>
<path d="M170,391.1 L176.9,385.5" fill="none" stroke="#1c1c1c" stroke-width="2.5"/>
<path d="M172.8,394.1 L179.6,388.5" fill="none" stroke="#1c1c1c" stroke-width="2.5"/>
<path d="M175.5,397.1 L182.4,391.5" fill="none" stroke="#1c1c1c" stroke-width="2.5"/>
<path d="M178.2,400.1 L185.1,394.5" fill="none" stroke="#1c1c1c" stroke-width="2.5"/>
<path d="M181,403.1 L187.9,397.5" fill="none" stroke="#1c1c1c" stroke-width="2.5"/>
<path d="M183.8,406.1 L190.6,400.5" fill="none" stroke="#1c1c1c" stroke-width="2.5"/>
<path d="M172.8,387 L188.8,404.2" fill="none" stroke="#1c1c1c" stroke-width="1.3"/>
<path d="M179.4,405.5 C179.7,404.2 181,403.2 182.5,403 C184,402.8 185.8,403.3 187.5,404.2 C189.2,405.2 191.4,406.6 191.9,408 C192.3,409.4 191.3,410.9 190,411.8 C188.7,412.6 186.7,412.7 185,412.4 C183.3,412 181.7,411.1 180.6,409.9 C179.6,408.6 179,406.8 179.4,405.5 Z" fill="#555" stroke="#1c1c1c" stroke-width="2"/>
<path d="M182.5,405.5 L187.5,410.5" fill="none" stroke="#1c1c1c" stroke-width="1.3"/>
<path d="M187.5,404.9 L183.8,411.1" fill="none" stroke="#1c1c1c" stroke-width="1.3"/>
<path d="M186.9,409.9 L220,448" fill="none" stroke="#222" stroke-width="4"/>
<path d="M188.8,408.6 L221.9,446.8" fill="none" stroke="#1c1c1c" stroke-width="1.1"/>
<path d="M190,411.1 L187.8,413.9" fill="none" stroke="#1c1c1c" stroke-width="1.1"/>
<path d="M193.1,414.8 L190.9,417.5" fill="none" stroke="#1c1c1c" stroke-width="1.1"/>
<path d="M196.2,418.4 L194,421.1" fill="none" stroke="#1c1c1c" stroke-width="1.1"/>
<path d="M199.4,422 L197.1,424.8" fill="none" stroke="#1c1c1c" stroke-width="1.1"/>
<path d="M202.5,425.6 L200.2,428.4" fill="none" stroke="#1c1c1c" stroke-width="1.1"/>
<path d="M205.6,429.2 L203.4,432" fill="none" stroke="#1c1c1c" stroke-width="1.1"/>
<path d="M208.8,432.9 L206.5,435.6" fill="none" stroke="#1c1c1c" stroke-width="1.1"/>
<path d="M211.9,436.5 L209.6,439.2" fill="none" stroke="#1c1c1c" stroke-width="1.1"/>
<path d="M215,440.1 L212.8,442.9" fill="none" stroke="#1c1c1c" stroke-width="1.1"/>
<path d="M218.1,443.8 L215.9,446.5" fill="none" stroke="#1c1c1c" stroke-width="1.1"/>
<path d="M185,388.2 C186.1,387.5 189.1,384 191.2,384 C193.4,384 195.5,387.3 196.5,388" fill="none" stroke="#1c1c1c" stroke-width="1.3"/>
<path d="M186.2,391.8 C187.4,391 190.3,387.5 192.5,387.5 C194.7,387.5 197.1,391 198.1,391.8" fill="none" stroke="#1c1c1c" stroke-width="1.3"/>
<path d="M196.5,388 C197.6,388.9 200.9,391.2 202.5,393 C204.1,394.8 204.5,397.1 205,398" fill="none" stroke="#1c1c1c" stroke-width="1.2"/>
<path d="M191.2,405.5 C192.4,405.3 195,403.3 197.5,404.2 C200,405.2 202.9,407.5 205,410.5 C207.1,413.5 208.5,417.3 208.8,420.5 C209,423.7 206.7,426.6 206.2,428" fill="none" stroke="#1c1c1c" stroke-width="1.2"/>
<path d="M195,408 C195.9,408.9 198.6,410.5 200,413 C201.4,415.5 202,420.1 202.5,421.8" fill="none" stroke="#1c1c1c" stroke-width="1"/>
<path d="M186.9,321.1 C184.7,324 178,332 175,336.8 C172,341.5 171,342.9 170.6,347 C170.3,351.1 171.4,354.9 173.1,359.2 C174.8,363.6 177.1,367.3 180,370.5 C182.9,373.7 186.6,375.1 188.8,376.8 C190.9,378.4 191,378.8 191.5,379.2" fill="none" stroke="#1c1c1c" stroke-width="1.3"/>
<path d="M197.5,333.6 C198.9,334.5 202.7,336.6 205,338.6 C207.3,340.7 208.9,341.8 210,344.9 C211.1,348 211.5,352.3 211.2,355.5 C211,358.7 209.2,361.2 208.8,362.5" fill="none" stroke="#1c1c1c" stroke-width="1.3"/>
<path d="M187.5,341.1 C191.1,339.9 198.6,343 202.5,343.8 C206.4,344.5 207.9,341.8 208.8,345 C209.6,348.2 209.8,357.7 207,361.2 C204.2,364.8 197.6,365.1 193.8,364.5 C189.9,363.9 188.2,360.6 186.2,358 C184.3,355.4 182.9,353.6 183.1,350.5 C183.4,347.4 183.9,342.4 187.5,341.1 Z" fill="none" stroke="#1c1c1c" stroke-width="1.6"/>
<path d="M190,343.6 L186.9,349.9 L190.6,356.1" fill="none" stroke="#1c1c1c" stroke-width="2"/>
<path d="M193.8,343.6 L190.6,349.9 L194.4,356.1" fill="none" stroke="#1c1c1c" stroke-width="2"/>
<path d="M197.5,343.6 L194.4,349.9 L198.1,356.1" fill="none" stroke="#1c1c1c" stroke-width="2"/>
<path d="M202.5,344.2 L200,351.8 L205,360.5" fill="none" stroke="#1c1c1c" stroke-width="1.5"/>
<path d="M193.8,364.5 L203.8,390.8" fill="none" stroke="#1c1c1c" stroke-width="2"/>
<path d="M207,361.8 L212.8,388" fill="none" stroke="#1c1c1c" stroke-width="2"/>
<path d="M197.5,364.5 L206.2,389.5" fill="none" stroke="#1c1c1c" stroke-width="2"/>
<path d="M201.5,363.8 L209,388.8" fill="none" stroke="#1c1c1c" stroke-width="1.8"/>
<path d="M204.4,363 L211,388.2" fill="none" stroke="#1c1c1c" stroke-width="1.6"/>
<path d="M203.8,393 C204.4,391.2 206.7,390.7 208.8,390.5 C210.8,390.3 212.9,390.8 215,391.8 C217.1,392.7 219.1,393.7 220,395.5 C220.9,397.3 220.9,399.9 220,401.8 C219.1,403.6 217.1,404.8 215,405.5 C212.9,406.2 210.6,406.4 208.8,405.5 C206.9,404.6 205.9,402.8 205,400.5 C204.1,398.2 203.1,394.8 203.8,393 Z" fill="#777" stroke="#1c1c1c" stroke-width="2"/>
<ellipse cx="208.8" cy="396.8" rx="2.2" ry="1.8" transform="rotate(0 208.8 396.8)" fill="#fff" stroke="#1c1c1c" stroke-width="1.3"/>
<ellipse cx="214.4" cy="395.8" rx="2" ry="1.6" transform="rotate(0 214.4 395.8)" fill="#fff" stroke="#1c1c1c" stroke-width="1.3"/>
<ellipse cx="212.5" cy="401.5" rx="2.2" ry="1.6" transform="rotate(0 212.5 401.5)" fill="#fff" stroke="#1c1c1c" stroke-width="1.3"/>
<path d="M212.5,385.5 C213.4,385 215.8,382.9 217.5,383 C219.2,383.1 221.2,384.5 221.9,386.1 C222.6,387.7 221.4,390.7 221.2,391.8" fill="none" stroke="#1c1c1c" stroke-width="1.8"/>
<path d="M215,388 L219.4,393" fill="none" stroke="#1c1c1c" stroke-width="2.2"/>
<path d="M210,373 C210.9,372.5 213.5,370.3 215,370.5 C216.5,370.7 217.6,373.6 218.1,374.2" fill="none" stroke="#1c1c1c" stroke-width="1.1"/>
<path d="M212.5,403.6 L223.8,431.1 L225,443" fill="none" stroke="#1c1c1c" stroke-width="1.3"/>
<path d="M215.6,402 L226.9,429.5" fill="none" stroke="#1c1c1c" stroke-width="1.3"/>
<path d="M227.2,364.5 C228.3,365.6 231,367.3 233.1,370.5 C235.3,373.7 237.7,376.5 239,381.8 C240.3,387 240.8,392.1 240.2,399.2 C239.7,406.4 238.1,412.7 236.2,420.5 C234.4,428.3 231.9,435.6 230.2,441.8 C228.6,447.9 227.8,452 227.2,454.2" fill="none" stroke="#1c1c1c" stroke-width="2.5"/>
<path d="M221.5,366 C222.4,367.1 224.9,369.2 226.5,371.8 C228.1,374.3 229.2,375.5 230.2,379.9 C231.3,384.2 232.3,389.4 232.2,395.5 C232.2,401.6 231.2,406.1 230,413 C228.8,419.9 227.2,426.5 225.8,433 C224.3,439.5 222.7,445.6 222,448.4" fill="none" stroke="#1c1c1c" stroke-width="2.1"/>
<path d="M221.5,366 L223.1,363.2 L227.2,364.5" fill="none" stroke="#1c1c1c" stroke-width="2.5"/>
<path d="M222.8,363 C223.4,361.2 224.9,357.1 226.2,353.2 C227.6,349.4 227.9,345 230,342 C232.1,339 234.3,339.3 237.5,336.8 C240.7,334.2 243.8,330.6 247.5,328.2 C251.2,325.9 255.7,324.6 257.5,323.8" fill="none" stroke="#1c1c1c" stroke-width="1.3"/>
<path d="M230,342 L233.8,339.9" fill="none" stroke="#1c1c1c" stroke-width="1.1"/>
<path d="M237.5,370.8 C239.3,370.4 243.8,368.1 247.5,368.8 C251.2,369.4 254.3,371.4 257.5,374.5 C260.7,377.6 263,381.6 265,385.5 C267,389.4 267.7,393.9 268.2,395.8" fill="none" stroke="#1c1c1c" stroke-width="1.3"/>
<path d="M245,374.5 L248.8,376.8" fill="none" stroke="#1c1c1c" stroke-width="1"/>
<path d="M251.2,378.6 L255,381.1" fill="none" stroke="#1c1c1c" stroke-width="1"/>
<path d="M237.5,399.5 C239,397.2 242,395.8 245,395.8 C248,395.8 251.9,397.2 253.8,399.5 C255.6,401.8 256.1,405.5 255.2,408.2 C254.4,411 251.8,413.6 249,414.5 C246.2,415.4 242.4,414.4 240.2,413.2 C238.1,412.1 237.5,410.8 237,408.2 C236.5,405.7 236,401.8 237.5,399.5 Z" fill="none" stroke="#1c1c1c" stroke-width="1.7"/>
<path d="M242.5,401.8 C243.6,401.5 247,399.8 248.8,400.5 C250.5,401.2 251.9,403.7 251.9,405.5 C251.9,407.3 249.3,409.6 248.8,410.5" fill="none" stroke="#1c1c1c" stroke-width="1.2"/>
<path d="M237.5,413 C238.9,413.9 242,417.5 245,418 C248,418.5 251.7,417.1 253.8,415.5 C255.8,413.9 255.8,410.4 256.2,409.2" fill="none" stroke="#1c1c1c" stroke-width="1.3"/>
<path d="M225,383 C225.9,383.9 228.9,385.2 230,388 C231.1,390.8 231,396.2 231.2,398" fill="none" stroke="#1c1c1c" stroke-width="1.1"/>
<path d="M260,405.5 L263.1,410.5" fill="none" stroke="#1c1c1c" stroke-width="1.5"/>
<path d="M261.8,403.5 L264.9,408.5" fill="none" stroke="#1c1c1c" stroke-width="1.5"/>
<path d="M263.5,401.5 L266.6,406.5" fill="none" stroke="#1c1c1c" stroke-width="1.5"/>
<path d="M265.2,399.5 L268.4,404.5" fill="none" stroke="#1c1c1c" stroke-width="1.5"/>
<path d="M267,397.5 L270.1,402.5" fill="none" stroke="#1c1c1c" stroke-width="1.5"/>
<path d="M257.5,413 C258.4,413.9 260.7,417.3 262.5,418 C264.3,418.7 266.6,417 267.5,416.8" fill="none" stroke="#1c1c1c" stroke-width="1.2"/>
<ellipse cx="270" cy="428" rx="7.5" ry="6.2" transform="rotate(0 270 428)" fill="none" stroke="#1c1c1c" stroke-width="1.5"/>
<path d="M187.5,440.5 C188.9,441 192.2,441.4 195,443 C197.8,444.6 200.2,447 202.5,449.2 C204.8,451.5 206.6,454.4 207.5,455.5" fill="none" stroke="#1c1c1c" stroke-width="1.2"/>
<path d="M197.5,438 C198.4,437.8 201.1,436.3 202.5,436.8 C203.9,437.2 204.5,439.8 205,440.5" fill="none" stroke="#1c1c1c" stroke-width="1.3"/>
<path d="M237.5,443 C238.9,443.2 242.7,442.9 245,444.2 C247.3,445.6 249.3,447.8 250,450.5 C250.7,453.2 250.1,456.7 248.8,459.2 C247.4,461.8 243.6,463.3 242.5,464.2" fill="none" stroke="#1c1c1c" stroke-width="1.3"/>
<path d="M232.5,443 C233.4,443.9 236.1,445.7 237.5,448 C238.9,450.3 239.5,454.1 240,455.5" fill="none" stroke="#1c1c1c" stroke-width="1.2"/>
<path d="M242.5,428 C243.6,427.5 246.7,425.3 248.8,425.5 C250.8,425.7 252.8,428.6 253.8,429.2" fill="none" stroke="#1c1c1c" stroke-width="1.2"/>
<path d="M257.5,438 C258.4,438.9 261.1,440.7 262.5,443 C263.9,445.3 265,447.8 265,450.5 C265,453.2 263,456.6 262.5,458" fill="none" stroke="#1c1c1c" stroke-width="1.2"/>
<path d="M231.2,438 C231.9,437.3 233.4,434.7 235,434.2 C236.6,433.8 239.1,435.3 240,435.5" fill="none" stroke="#1c1c1c" stroke-width="1.1"/>
<ellipse cx="230" cy="461.8" rx="6.9" ry="6.9" transform="rotate(0 230 461.8)" fill="#666" stroke="#1c1c1c" stroke-width="3.4"/>
<ellipse cx="230" cy="461.8" rx="3.1" ry="3.1" transform="rotate(0 230 461.8)" fill="#fff" stroke="#1c1c1c" stroke-width="1.7"/>
<path d="M225,450.5 C224.8,451.9 223.5,455 223.8,458 C224,461 225.8,465.1 226.2,466.8" fill="none" stroke="#1c1c1c" stroke-width="2.9"/>
<path d="M227.5,454.2 C228.4,454.5 230.9,454.6 232.5,455.5 C234.1,456.4 235.6,458.6 236.2,459.2" fill="none" stroke="#1c1c1c" stroke-width="1.8"/>
<path d="M223.1,453 L221.2,454.2" fill="none" stroke="#1c1c1c" stroke-width="1.3"/>
<path d="M223.4,456.1 L221.5,457.4" fill="none" stroke="#1c1c1c" stroke-width="1.3"/>
<path d="M223.6,459.2 L221.8,460.5" fill="none" stroke="#1c1c1c" stroke-width="1.3"/>
<path d="M223.9,462.4 L222,463.6" fill="none" stroke="#1c1c1c" stroke-width="1.3"/>
<path d="M224.1,465.5 L222.2,466.8" fill="none" stroke="#1c1c1c" stroke-width="1.3"/>
<path d="M224.4,468.6 L222.5,469.9" fill="none" stroke="#1c1c1c" stroke-width="1.3"/>
<path d="M152.5,420 C153,418.2 153.4,413.2 155,410 C156.6,406.8 158.8,404.4 161.2,402.5 C163.7,400.6 166.9,400.3 168.1,399.8" fill="none" stroke="#1c1c1c" stroke-width="1.3"/>
<path d="M155,416.2 C155.8,415.2 157.1,412.2 159.4,410.6 C161.7,409 166,408.1 167.5,407.5" fill="none" stroke="#1c1c1c" stroke-width="1.3"/>
<path d="M156.2,410 C157.2,409.3 159.2,407.3 161.2,406.2 C163.3,405.2 166.4,404.7 167.5,404.4" fill="none" stroke="#1c1c1c" stroke-width="1.1"/>
<path d="M158.1,413.8 C159.4,413.4 162.4,412.4 165,411.9 C167.6,411.3 171.1,410.9 172.5,410.6" fill="none" stroke="#1c1c1c" stroke-width="1.2"/>
<path d="M152.5,415 C153.4,415 155.2,415.2 157.5,415 C159.8,414.8 163.6,414 165,413.8" fill="none" stroke="#1c1c1c" stroke-width="1.6"/>
<path d="M198.8,437.5 L202.5,440" fill="none" stroke="#1c1c1c" stroke-width="2"/>
<path d="M178.8,455.6 L181.2,458.1" fill="none" stroke="#1c1c1c" stroke-width="2"/>
<path d="M188.8,476.9 L191.9,479.4" fill="none" stroke="#1c1c1c" stroke-width="2"/>
<path d="M198.8,482.5 L201.9,485" fill="none" stroke="#1c1c1c" stroke-width="1.8"/>
<path d="M140,435 C139.5,436.8 138.2,441.8 137.5,445 C136.8,448.2 136.5,451.1 136.2,452.5" fill="none" stroke="#1c1c1c" stroke-width="1.1"/>
<path d="M143.8,438.8 C144.2,439.9 146,442.5 146.2,445 C146.5,447.5 145.2,451.1 145,452.5" fill="none" stroke="#1c1c1c" stroke-width="1.1"/>
<path d="M150,442.5 L148.8,452.5 L151.2,463.8" fill="none" stroke="#1c1c1c" stroke-width="1.1"/>
<path d="M152.5,441.2 L155,447.5" fill="none" stroke="#1c1c1c" stroke-width="1.1"/>
<ellipse cx="140.6" cy="453.1" rx="2.2" ry="2.8" transform="rotate(0 140.6 453.1)" fill="none" stroke="#1c1c1c" stroke-width="1.1"/>
<path d="M165,456.2 C165.9,455.7 167.9,453.8 170,453.1 C172.1,452.4 175.1,452.6 176.2,452.5" fill="none" stroke="#1c1c1c" stroke-width="1.2"/>
<path d="M176.2,446.2 C176.9,447.4 178.4,450.7 180,452.5 C181.6,454.3 184.1,455.6 185,456.2" fill="none" stroke="#1c1c1c" stroke-width="1.2"/>
<path d="M185,456.2 C186.4,455.8 189.8,453.8 192.5,453.8 C195.2,453.8 197.5,454.4 200,456.2 C202.5,458.1 205.1,462.4 206.2,463.8" fill="none" stroke="#1c1c1c" stroke-width="1.2"/>
<path d="M190,427.5 C190.9,428 192.7,429.7 195,430 C197.3,430.3 201.1,429.5 202.5,429.4" fill="none" stroke="#1c1c1c" stroke-width="1.2"/>
<path d="M185,442.5 C186.4,443.2 189.3,445.3 192.5,446.2 C195.7,447.2 199.5,446.4 202.5,447.5 C205.5,448.6 207.6,451.6 208.8,452.5" fill="none" stroke="#1c1c1c" stroke-width="1.2"/>
<path d="M164.5,455.5 C166.1,454.9 169.8,452 173.3,452 C176.9,452 181.4,453.9 184,455.5 C186.6,457.1 186.9,459.9 187.5,460.8" fill="none" stroke="#1c1c1c" stroke-width="1.2"/>
<path d="M184,460.8 C185.9,459.9 190.7,455.5 194.6,455.5 C198.5,455.5 202.6,457.9 205.2,460.8 C207.8,463.8 208.8,467.6 208.8,471.5 C208.8,475.4 205.9,480.1 205.2,482.1" fill="none" stroke="#1c1c1c" stroke-width="1.2"/>
<path d="M159.2,469.7 C160.5,468.7 163.3,465 166.2,464.4 C169.2,463.7 173.5,465.8 175.1,466.1" fill="none" stroke="#1c1c1c" stroke-width="1.2"/>
<path d="M143.2,480.3 C144.9,480.6 149.6,480.1 152.1,482.1 C154.5,484 155.9,488 156.5,490.9 C157.2,493.9 155.8,496.7 155.6,498" fill="none" stroke="#1c1c1c" stroke-width="1.2"/>
<path d="M150.3,482.1 C151.3,481.8 153.4,480 155.6,480.3 C157.9,480.6 161.4,483.2 162.7,483.9" fill="none" stroke="#1c1c1c" stroke-width="1.1"/>
<path d="M159.2,498.9 L173.3,492.7 L187.5,489.2" fill="none" stroke="#1c1c1c" stroke-width="1.1"/>
<path d="M176.9,462.6 L168,498" fill="none" stroke="#1c1c1c" stroke-width="1.3"/>
<path d="M181.3,464.4 L173.3,497.1" fill="none" stroke="#1c1c1c" stroke-width="1.3"/>
<path d="M184,475 C185.3,474 188.1,469.7 191,469.7 C194,469.7 197.9,472.1 199.9,475 C201.8,477.9 202.6,482.4 201.7,485.6 C200.7,488.9 197.2,491.7 194.6,492.7 C192,493.7 188.8,491.3 187.5,490.9" fill="none" stroke="#1c1c1c" stroke-width="1.3"/>
<path d="M191,478.5 C191.9,478.2 193.8,476.4 195.5,476.8 C197.1,477.1 199.1,479.7 199.9,480.3" fill="none" stroke="#1c1c1c" stroke-width="1.6"/>
<path d="M189.3,489.2 C189.8,489.8 191.6,491.2 191.9,492.7 C192.3,494.2 191.2,496.3 191,497.1" fill="none" stroke="#1c1c1c" stroke-width="1.1"/>
<path d="M199.9,494.5 L230,483.9" fill="none" stroke="#1c1c1c" stroke-width="1.2"/>
<path d="M208.8,478.5 L226.5,471.5" fill="none" stroke="#1c1c1c" stroke-width="1.2"/>
<path d="M219.4,475 L224.7,482.1" fill="none" stroke="#1c1c1c" stroke-width="1"/>
<path d="M173.3,446.7 C174,447.6 176.6,449.7 176.9,452 C177.2,454.3 175.4,457.8 175.1,459.1" fill="none" stroke="#1c1c1c" stroke-width="1.1"/>
<path d="M186.6,441.4 C188.1,442 190.8,443.9 194.6,444.9 C198.3,445.9 203.7,445.4 207,446.7 C210.2,448 211.3,451 212.3,452" fill="none" stroke="#1c1c1c" stroke-width="1.1"/>
<path d="M166.2,457.3 L164.5,464.4" fill="none" stroke="#1c1c1c" stroke-width="1"/>
<path d="M176.9,455.5 L180.4,459.1" fill="none" stroke="#1c1c1c" stroke-width="1.3"/>
<path d="M236.8,371.6 C238.6,371.1 242.8,368 246.6,368.8 C250.3,369.5 253.9,372.6 257.2,375.8 C260.4,379.1 262.3,381.9 264.3,386.5 C266.2,391 267.2,398 267.8,400.6" fill="none" stroke="#1c1c1c" stroke-width="1.3"/>
<path d="M264.3,382.9 L267.8,381.5" fill="none" stroke="#1c1c1c" stroke-width="1"/>
<path d="M271.4,397.4 L274.9,396.4" fill="none" stroke="#1c1c1c" stroke-width="1"/>
<path d="M258.1,404.2 C259.2,403.5 262.1,401.6 264.3,400.6 C266.4,399.7 268.9,399.2 269.9,398.9" fill="none" stroke="#1c1c1c" stroke-width="1.1"/>
<path d="M257.5,405.9 L260.4,407" fill="none" stroke="#1c1c1c" stroke-width="1.3"/>
<path d="M257.5,409.5 L260.4,410.5" fill="none" stroke="#1c1c1c" stroke-width="1.3"/>
<path d="M257.5,413 L260.4,414.1" fill="none" stroke="#1c1c1c" stroke-width="1.3"/>
<path d="M257.5,416.6 L260.4,417.6" fill="none" stroke="#1c1c1c" stroke-width="1.3"/>
<path d="M257.5,420.1 L260.4,421.2" fill="none" stroke="#1c1c1c" stroke-width="1.3"/>
<path d="M257.5,423.6 L260.4,424.7" fill="none" stroke="#1c1c1c" stroke-width="1.3"/>
<path d="M257.5,427.2 L260.4,428.2" fill="none" stroke="#1c1c1c" stroke-width="1.3"/>
<path d="M259.3,404.2 C259.1,406.8 258,413.5 258.1,418.3 C258.2,423.2 259.5,428.5 259.8,430.7" fill="none" stroke="#1c1c1c" stroke-width="1.1"/>
<path d="M261.1,405.1 L264.3,397.1" fill="none" stroke="#1c1c1c" stroke-width="1.1"/>
<path d="M263.2,404.3 L266.4,396.4" fill="none" stroke="#1c1c1c" stroke-width="1.1"/>
<path d="M265.3,403.6 L268.5,395.7" fill="none" stroke="#1c1c1c" stroke-width="1.1"/>
<path d="M267.5,402.9 L270.6,395" fill="none" stroke="#1c1c1c" stroke-width="1.1"/>
<path d="M269.6,409.8 C271.5,409.3 276.3,407.1 280.2,407 C284.1,406.9 287.2,407.4 290.8,409.5 C294.5,411.6 297.1,414.1 300,418.3 C303,422.6 305,426.9 306.8,432.5 C308.5,438.1 309.1,445.8 309.6,448.8" fill="none" stroke="#1c1c1c" stroke-width="1.3"/>
<path d="M309.6,434.3 L315.6,432.5" fill="none" stroke="#1c1c1c" stroke-width="1"/>
<path d="M273.1,411.2 C274.7,410.9 279.1,409.5 282,409.5 C284.9,409.5 287.8,410.9 289.1,411.2" fill="none" stroke="#1c1c1c" stroke-width="1.6"/>
<path d="M261.6,427.2 C263.1,425.9 266.5,421.1 269.6,420.1 C272.7,419.1 275.5,420.3 278.4,421.9 C281.4,423.5 283.6,425.6 285.5,429 C287.5,432.3 288.4,437.9 289.1,439.9" fill="none" stroke="#1c1c1c" stroke-width="1.3"/>
<path d="M266,432.9 C267.3,431.8 270.5,427.3 273.1,427.2 C275.7,427.1 278.5,429.5 280.2,432.5 C281.9,435.5 281.9,441.5 282.3,443.5" fill="none" stroke="#1c1c1c" stroke-width="1.2"/>
<path d="M293.5,418.3 L270.5,461.2" fill="none" stroke="#1c1c1c" stroke-width="1.3"/>
<path d="M298.3,420.1 L276,463.7" fill="none" stroke="#1c1c1c" stroke-width="1.3"/>
<path d="M270.5,461.2 L276,463.7" fill="none" stroke="#1c1c1c" stroke-width="1.1"/>
<path d="M235.9,439.9 C237.9,439.2 243,435.5 246.6,436 C250.1,436.6 253.4,439.6 255.4,443.1 C257.4,446.7 258.1,451.9 257.5,455.5 C257,459.2 253.2,461.6 252.2,463" fill="none" stroke="#1c1c1c" stroke-width="1.3"/>
<path d="M241.2,427.5 C242.5,427.2 246.4,425.2 248.3,425.4 C250.3,425.7 251.2,428.3 251.9,429" fill="none" stroke="#1c1c1c" stroke-width="1.2"/>
<path d="M243,446.7 C244,446.3 246.9,443.9 248.3,444.9 C249.8,445.9 251.3,449.7 251,452 C250.7,454.3 247.4,456.3 246.6,457.3" fill="none" stroke="#1c1c1c" stroke-width="1.1"/>
<path d="M259.8,443.1 C261,443.8 264.3,444.4 266,446.7 C267.8,448.9 268.9,453.9 269.6,455.5" fill="none" stroke="#1c1c1c" stroke-width="1.1"/>
<path d="M262.5,444.9 L264.3,448.4" fill="none" stroke="#1c1c1c" stroke-width="1.6"/>
<path d="M266.9,450.2 L268.7,454.6" fill="none" stroke="#1c1c1c" stroke-width="1.6"/>
<path d="M255.4,460.8 C257,461.5 261,464.1 264.3,464.4 C267.5,464.7 268.9,463.3 273.1,462.6 C277.3,462 283.4,461.8 287.3,460.8 C291.2,459.9 293.1,457.9 294.4,457.3" fill="none" stroke="#1c1c1c" stroke-width="1.2"/>
<ellipse cx="301.8" cy="454.6" rx="4.6" ry="4.2" transform="rotate(0 301.8 454.6)" fill="none" stroke="#1c1c1c" stroke-width="2.2"/>
<path d="M298.8,452.9 L305,457.3" fill="none" stroke="#1c1c1c" stroke-width="1.6"/>
<path d="M293.5,460.8 C294.6,461.2 297.6,462.9 299.7,462.6 C301.8,462.3 304,459.7 305,459.1" fill="none" stroke="#1c1c1c" stroke-width="1.8"/>
<path d="M220,483.1 C227.8,479.9 249.5,469.2 262.5,465.4 C275.5,461.7 282.7,464.1 290.8,462.6 C298.9,461.1 301.9,459.6 306.8,457.3 C311.6,455 314.1,453.1 317.4,450.2 C320.6,447.3 321.6,444 324.5,441.4 C327.4,438.8 330.1,437.8 333.3,436 C336.6,434.3 340.6,432.6 342.2,431.8" fill="none" stroke="#1c1c1c" stroke-width="1.3"/>
<path d="M227.1,494.5 C234.6,491.1 256.1,480 267.8,476.1 C279.5,472.2 283.4,475 290.8,473.2 C298.3,471.5 303,469.1 308.5,466.5 C314.1,463.9 317.3,462.3 320.9,459.1 C324.6,455.8 325.4,451.7 328.4,448.8 C331.4,445.9 335.6,444.2 337.2,443.1" fill="none" stroke="#1c1c1c" stroke-width="1.3"/>
<path d="M289.9,499.1 L341.5,473.2" fill="none" stroke="#1c1c1c" stroke-width="1.3"/>
<path d="M220,475 L223.5,482.1" fill="none" stroke="#1c1c1c" stroke-width="1"/>
</g>
<g id="fig3">

<text x="342.2" y="739.7" style="font-size:8.3px;letter-spacing:0.85px;" fill="#3a3a3a" stroke="#3a3a3a" stroke-width="0.18">EM0494</text>
<path d="M98.1,554.1 C94.2,554.8 90.1,558.5 86.6,563.9 C83,569.2 79.9,577.2 78.6,583.4 C77.3,589.5 77.7,593 79.5,597.5 C81.3,602.1 84.8,605.6 88.3,608.1 C91.9,610.6 94.7,611.3 99,611.2 C103.2,611 107.6,610.4 111.4,607.3 C115.1,604.1 118.3,599.7 119.3,594 C120.3,588.3 118.8,582.4 116.7,576.3 C114.6,570.1 111.2,564.4 107.8,560.3 C104.4,556.3 102,553.5 98.1,554.1 Z" fill="none" stroke="#1c1c1c" stroke-width="1.2"/>
<ellipse cx="98.1" cy="590.4" rx="17.5" ry="17.7" transform="rotate(0 98.1 590.4)" fill="none" stroke="#1c1c1c" stroke-width="1.2"/>
<ellipse cx="98.1" cy="590.4" rx="15.9" ry="16.1" transform="rotate(0 98.1 590.4)" fill="none" stroke="#1c1c1c" stroke-width="1"/>
<path d="M75.9,615.2 L121.1,615.2" fill="none" stroke="#1c1c1c" stroke-width="1.2"/>
<rect x="81.2" y="615.9" width="35.4" height="3.2" fill="#8a8a8a" stroke="#222" stroke-width="0.9"/>
<path d="M77.2,615.2 L77.2,648.3" fill="none" stroke="#1c1c1c" stroke-width="1.3"/>
<path d="M121.1,615.2 L121.1,646.6" fill="none" stroke="#1c1c1c" stroke-width="1.3"/>
<path d="M121.1,604.2 C125.7,600.7 139.5,588.4 148.5,583 C157.5,577.6 167.1,574.1 175.1,572 C183.1,569.9 190.5,569.9 196.4,570.2 C202.3,570.6 208.2,573.5 210.5,574.1 L210.5,575.2 C208.2,574.7 202.3,572.1 196.4,572 C190.5,572 183.1,572.4 175.1,574.9 C167.1,577.3 157.2,581.3 148.5,586.9 C139.9,592.5 127.6,604.9 123.4,608.5 Z" fill="#111" stroke="#111" stroke-width="0.5"/>
<path d="M207,571.7 L217.2,577.3 L208.4,578.8 Z" fill="#111" stroke="#1c1c1c" stroke-width="1"/>
<path d="M136.1,619.7 C139.1,618.7 146.6,615.8 152.1,614.5 C157.6,613.3 160.7,613.1 166.2,612.8 C171.8,612.4 179.3,612.8 182.2,612.8" fill="none" stroke="#1c1c1c" stroke-width="1.2"/>
<path d="M182.2,612.8 L208,586.9" fill="none" stroke="#1c1c1c" stroke-width="1.2"/>
<path d="M184.7,615.6 L210.9,589" fill="none" stroke="#1c1c1c" stroke-width="1"/>
<path d="M182.2,612.8 L182.2,634" fill="none" stroke="#1c1c1c" stroke-width="1.2"/>
<path d="M185,613.8 L185,633.3" fill="none" stroke="#1c1c1c" stroke-width="1"/>
<path d="M137.9,634.7 C138.9,636.1 141.6,638.8 143.2,642.1 C144.9,645.5 145.1,649.5 146.8,652.8 C148.4,656 151.1,658.6 152.1,659.9" fill="none" stroke="#1c1c1c" stroke-width="1.1"/>
<path d="M140.8,638.6 C142.8,639.3 148.1,642.8 152.1,642.1 C156.1,641.5 160.4,637.7 162.7,635.1 C165,632.4 164.4,629 164.8,627.6" fill="none" stroke="#1c1c1c" stroke-width="1.1"/>
<path d="M136.1,662.3 C138.4,662.5 144.3,664.5 148.5,663 C152.8,661.6 154.6,658.4 159.2,654.5 C163.7,650.7 168.8,645.9 173.3,642.1 C177.9,638.4 180.1,636.3 184,634 C187.9,631.7 192.6,630.5 194.6,629.8" fill="none" stroke="#1c1c1c" stroke-width="1.2"/>
<path d="M191,636.5 C192.3,635.5 195.1,631.6 198.1,631.2 C201.1,630.7 205.2,632 207.3,634 C209.5,636 210.5,639 209.8,642.1 C209.2,645.3 205.9,649.1 203.8,651 C201.6,652.9 199.2,652.4 198.1,652.8" fill="none" stroke="#1c1c1c" stroke-width="1.2"/>
<path d="M191.4,637.5 L199.9,652.8" fill="none" stroke="#1c1c1c" stroke-width="1.1"/>
<path d="M198.1,654.2 C199.8,655.2 204.3,656.9 207.3,659.9 C210.3,662.8 213.5,666.6 214.4,670.5 C215.3,674.4 214.6,678.5 212.3,681.1 C210,683.7 206.2,685 201.7,684.6 C197.1,684.3 191.1,681 187.5,679.3 C183.9,677.7 183.2,676.4 182.2,675.8" fill="none" stroke="#1c1c1c" stroke-width="1.2"/>
<path d="M182.2,675.8 C183.8,677.1 188.8,680.6 191,682.9 C193.3,685.1 195.2,686.6 194.6,688.2 C194,689.8 191.8,691.3 187.9,691.7 C184,692.2 176,690.9 173.3,690.7" fill="none" stroke="#1c1c1c" stroke-width="1.2"/>
<path d="M173.3,690.7 C174,688.9 174.9,684.5 176.9,681.1 C178.8,677.7 181,675.8 184,672.2 C186.9,668.7 189.9,664.9 192.8,661.6 C195.7,658.4 198.6,655.8 199.9,654.5" fill="none" stroke="#1c1c1c" stroke-width="1.1"/>
<path d="M169.8,691.7 L166.2,702.4" fill="none" stroke="#1c1c1c" stroke-width="1"/>
<path d="M163.8,711.2 L161.8,717.2" fill="none" stroke="#1c1c1c" stroke-width="1"/>
<path d="M183.6,611.6 L208.6,586.6 L217.2,590.6" fill="none" stroke="#1c1c1c" stroke-width="1.3"/>
<path d="M183.6,611.6 L182.8,632.8" fill="none" stroke="#1c1c1c" stroke-width="1.2"/>
<path d="M196.9,653.8 C199.7,654.7 206.2,658.7 212.5,658.8 C218.8,658.8 224.9,656.9 231.2,654.1 C237.6,651.2 242.3,647.4 246.9,643.1 C251.5,638.8 254.2,633.8 256.2,630.6 C258.3,627.4 257.8,626.5 258.1,625.6" fill="none" stroke="#1c1c1c" stroke-width="1.3"/>
<path d="M205.5,608.4 C205.6,610.5 205,615.9 206.2,619.7 C207.5,623.5 209.3,626.8 212.5,629.1 C215.7,631.4 219.1,632.8 223.4,632.2 C227.7,631.6 232.2,628.8 235.9,625.9 C239.7,623.1 241.6,619.2 243.8,616.6 C245.9,613.9 247.1,612.5 247.8,611.6" fill="none" stroke="#1c1c1c" stroke-width="1.3"/>
<path d="M209.4,625.6 C209.9,626.5 211.1,629.2 212.5,630.3 C213.9,631.5 216.3,631.6 217.2,631.9" fill="none" stroke="#1c1c1c" stroke-width="1"/>
<ellipse cx="222.7" cy="596.2" rx="8.1" ry="17.5" transform="rotate(27 222.7 596.2)" fill="none" stroke="#1c1c1c" stroke-width="1.4"/>
<ellipse cx="220.6" cy="597.5" rx="6.2" ry="15.6" transform="rotate(27 220.6 597.5)" fill="none" stroke="#1c1c1c" stroke-width="1.1"/>
<path d="M214.8,591.2 L219.7,592.2 L219.7,597.5 L215,598.4" fill="none" stroke="#1c1c1c" stroke-width="1.2"/>
<path d="M228.9,599.1 L250,606.9" fill="none" stroke="#1c1c1c" stroke-width="1.2"/>
<path d="M227.3,605.6 L245.6,614.7" fill="none" stroke="#1c1c1c" stroke-width="1.2"/>
<path d="M250,603.1 L300.6,628.4" fill="none" stroke="#1c1c1c" stroke-width="1.3"/>
<path d="M262.5,629.1 L293.8,644.8" fill="none" stroke="#1c1c1c" stroke-width="1.3"/>
<path d="M250,603.1 C249.7,604.1 248.1,606.3 248.1,608.4 C248.1,610.6 249.7,613.8 250,615" fill="none" stroke="#1c1c1c" stroke-width="1.2"/>
<path d="M253.1,604.5 L268.8,611.6 L266.4,628.8" fill="none" stroke="#1c1c1c" stroke-width="1.1"/>
<ellipse cx="258.1" cy="617.2" rx="3.9" ry="3.9" transform="rotate(0 258.1 617.2)" fill="none" stroke="#1c1c1c" stroke-width="1.5"/>
<ellipse cx="258.1" cy="617.2" rx="1.7" ry="1.7" transform="rotate(0 258.1 617.2)" fill="none" stroke="#1c1c1c" stroke-width="1.1"/>
<path d="M257.8,621.2 C258.1,622.6 258.5,627 259.4,628.8 C260.3,630.5 262.2,630.3 262.8,630.6" fill="none" stroke="#1c1c1c" stroke-width="1.4"/>
<path d="M270.6,614.7 L267.5,628.8" fill="none" stroke="#1c1c1c" stroke-width="3"/>
<path d="M275,616.6 L271.9,630.3" fill="none" stroke="#1c1c1c" stroke-width="2.4"/>
<path d="M278.1,618.1 L277.3,621.7" fill="none" stroke="#1c1c1c" stroke-width="1"/>
<path d="M300.6,628.5 L323.6,639.5 L316.9,656 L293.8,644.8 Z" fill="#3a3a3a" stroke="#1c1c1c" stroke-width="1"/>
<path d="M303.2,630.5 L296.5,646.4" stroke="#bbb" stroke-width="0.5"/>
<path d="M306.2,631.9 L299.5,647.8" stroke="#bbb" stroke-width="0.5"/>
<path d="M309.2,633.3 L302.5,649.2" stroke="#bbb" stroke-width="0.5"/>
<path d="M312.3,634.7 L305.5,650.6" stroke="#bbb" stroke-width="0.5"/>
<path d="M315.3,636.1 L308.5,652.1" stroke="#bbb" stroke-width="0.5"/>
<path d="M318.3,637.5 L311.6,653.5" stroke="#bbb" stroke-width="0.5"/>
<path d="M321.3,639 L314.6,654.9" stroke="#bbb" stroke-width="0.5"/>
<path d="M323.6,640 C324.3,641 327.1,642.7 327.3,645.3 C327.5,647.9 326.5,652.2 324.8,654.2 C323.2,656.2 319.6,655.9 318.5,656.3" fill="none" stroke="#1c1c1c" stroke-width="1.3"/>
<ellipse cx="322.4" cy="649.8" rx="2.1" ry="3.9" transform="rotate(25 322.4 649.8)" fill="none" stroke="#1c1c1c" stroke-width="1"/>
<path d="M303.2,663 C304.2,660.1 305.9,658.5 308.5,657.7 C311.1,656.9 314.8,657.2 317.4,658.8 C320,660.4 322.4,663.5 322.7,666.6 C323,669.6 321.4,673.2 319.2,675.4 C316.9,677.7 313.2,679.3 310.3,679 C307.4,678.7 304.5,676.6 303.2,673.7 C301.9,670.7 302.3,666 303.2,663 Z" fill="none" stroke="#1c1c1c" stroke-width="1.2"/>
<path d="M309.4,664.1 C310.2,663.9 312.7,662.3 313.9,663 C315.1,663.8 315.6,667.4 316,668.4" fill="none" stroke="#1c1c1c" stroke-width="1"/>
<path d="M287.3,677.2 C288.4,674.6 291.5,672.5 294.4,671.9 C297.3,671.2 300.6,672 303.2,673.7 C305.8,675.3 308.5,677.8 308.5,680.8 C308.5,683.7 305.8,687.7 303.2,689.6 C300.6,691.6 297.1,692 294.4,691.4 C291.6,690.7 289.7,688.7 288.4,686.1 C287.1,683.5 286.2,679.8 287.3,677.2 Z" fill="none" stroke="#1c1c1c" stroke-width="1.2"/>
<path d="M290.8,679.3 C292.1,678.8 295.6,676.4 297.9,676.5 C300.2,676.6 302.3,679.4 303.2,680" fill="none" stroke="#1c1c1c" stroke-width="1"/>
<path d="M297.9,683.6 L301.8,682.5" fill="none" stroke="#1c1c1c" stroke-width="1"/>
<path d="M273.1,679 C274.4,678.5 277.7,676.2 280.2,676.5 C282.7,676.8 285.2,678.7 286.6,680.8 C287.9,682.8 287.5,686.5 287.6,687.8" fill="none" stroke="#1c1c1c" stroke-width="1.2"/>
<path d="M272.4,684.3 C273.2,685.6 274.8,688.9 276.7,691.4 C278.5,693.8 281.3,696.6 282.3,697.8" fill="none" stroke="#1c1c1c" stroke-width="1.1"/>
<path d="M278.4,691.4 C280.7,694.6 286.6,702.1 290.8,709.1 C295.1,716.1 299.5,725.9 301.5,729.6" fill="none" stroke="#1c1c1c" stroke-width="1.1"/>
<path d="M290.8,702.4 L298.3,694.9" fill="none" stroke="#1c1c1c" stroke-width="1"/>
<path d="M305,717.9 C306.9,715 312,706.9 315.6,702 C319.3,697.1 323.1,693.3 324.8,691.4" fill="none" stroke="#1c1c1c" stroke-width="1.1"/>
<path d="M308.5,687.8 C309.8,689.8 312.3,697.8 315.6,698.5 C318.9,699.1 324.6,692.7 326.6,691.4" fill="none" stroke="#1c1c1c" stroke-width="1.1"/>
<path d="M319.2,679 C320.5,680.6 323.3,685.6 326.2,687.8 C329.2,690.1 332.8,686.8 335.5,691.4 C338.1,695.9 339.8,708.7 340.8,712.6" fill="none" stroke="#1c1c1c" stroke-width="1.1"/>
<path d="M324.5,643.6 C326.4,643.4 331.5,641.9 335.1,642.9 C338.7,643.8 341.6,646.5 344,648.9 C346.3,651.3 348.1,653.9 347.9,656 C347.6,658 343.5,659.1 342.5,659.9" fill="none" stroke="#1c1c1c" stroke-width="1.2"/>
<path d="M326.2,654.2 C327.5,655.8 330.1,662 333.3,663 C336.6,664.1 342,660.4 344,659.9" fill="none" stroke="#1c1c1c" stroke-width="1.1"/>
<path d="M344,647.1 C345.9,648.7 350.7,651.1 354.6,656 C358.5,660.8 361.2,666.1 365.2,673.7 C369.2,681.2 374.2,692.8 376.2,697" fill="none" stroke="#1c1c1c" stroke-width="1.1"/>
<path d="M351,654.2 C352.3,655.2 355.5,657.2 358.1,659.9 C360.8,662.5 364.2,667.1 365.6,668.7" fill="none" stroke="#1c1c1c" stroke-width="1"/>
</g>
<g id="fig4">

<text x="342.2" y="966.2" style="font-size:8.3px;letter-spacing:0.85px;" fill="#3a3a3a" stroke="#3a3a3a" stroke-width="0.18">EM5149</text>
<text x="144.1" y="791.8" style="font-size:14.2px;letter-spacing:0px;" fill="#222" stroke="#222" stroke-width="0.25">SST (B)</text>
<text x="303.2" y="782.1" style="font-size:14.6px;letter-spacing:0px;" fill="#222" stroke="#222" stroke-width="0.25">SST (A)</text>
<path d="M169.8,795.2 L210.5,808.6" fill="none" stroke="#1c1c1c" stroke-width="1"/>
<path d="M298.8,783.9 L264.3,792.7" fill="none" stroke="#1c1c1c" stroke-width="1"/>
<clipPath id="c4"><rect x="68" y="766.4" width="313" height="190"/></clipPath><g clip-path="url(#c4)">
<path d="M227.4,777.3 L226.2,827" fill="none" stroke="#1c1c1c" stroke-width="1.4"/>
<path d="M237.5,778 L233,824.6" fill="none" stroke="#1c1c1c" stroke-width="1.4"/>
<path d="M227.4,777.3 C227.8,777 227.8,775.9 229.2,775.6 C230.7,775.3 234,775.1 235.5,775.6 C237,776 237.1,777.5 237.5,778" fill="none" stroke="#1c1c1c" stroke-width="1.4"/>
<path d="M221.1,839.6 L214.9,899.8" fill="none" stroke="#1c1c1c" stroke-width="1.4"/>
<path d="M224.9,834.8 L221.7,899.8" fill="none" stroke="#1c1c1c" stroke-width="1.4"/>
<path d="M237.2,818.5 L223.8,882.3" fill="none" stroke="#1c1c1c" stroke-width="1.4"/>
<path d="M245.3,817.9 L230.6,883.5" fill="none" stroke="#1c1c1c" stroke-width="1.4"/>
<path d="M241.3,818.2 L227.3,882.9" fill="none" stroke="#1c1c1c" stroke-width="1"/>
<path d="M237.2,818.5 L241.5,815.8 L245.3,817.9" fill="none" stroke="#1c1c1c" stroke-width="1.4"/>
<ellipse cx="220.7" cy="801.8" rx="5.4" ry="5.4" transform="rotate(0 220.7 801.8)" fill="none" stroke="#1c1c1c" stroke-width="1.5"/>
<ellipse cx="221.2" cy="802.2" rx="2.1" ry="2.1" transform="rotate(0 221.2 802.2)" fill="none" stroke="#1c1c1c" stroke-width="1.2"/>
<path d="M214.7,799.6 C215.3,798.7 215.9,795.8 218.2,794.6 C220.5,793.4 225.5,793.4 227.1,793.1" fill="none" stroke="#1c1c1c" stroke-width="1.3"/>
<path d="M209.4,803.7 C210.5,804.5 213.3,805.3 215.4,807.7 C217.5,810.1 218.9,813.1 220.8,816.7 C222.7,820.4 224.7,825.6 225.6,827.6" fill="none" stroke="#1c1c1c" stroke-width="3.1"/>
<path d="M213.3,802.5 C214.5,803.5 217.7,805.1 219.8,807.7 C222,810.3 223.4,813.5 225,816.7 C226.5,819.9 227.7,823.6 228.3,825.2" fill="none" stroke="#1c1c1c" stroke-width="2.2"/>
<path d="M208.4,804.2 C208.7,803.8 209.2,802 210.2,801.8 C211.3,801.5 213.3,802.6 214,802.8" fill="none" stroke="#1c1c1c" stroke-width="1.9"/>
<path d="M237.9,791 C239.2,791.1 242.1,790.9 245.1,791.8 C248.1,792.8 251.9,794.3 254.3,796 C256.6,797.7 257.1,800.3 257.8,801.3" fill="none" stroke="#1c1c1c" stroke-width="1.3"/>
<path d="M234.8,804.2 C236.2,803.9 239.5,803.3 242.5,802.8 C245.6,802.2 249.8,801.4 251.5,801" fill="none" stroke="#1c1c1c" stroke-width="1.2"/>
<path d="M236.3,796 C237.9,796.3 242.3,796.7 245.3,797.4 C248.4,798.2 251.5,799.8 252.9,800.3" fill="none" stroke="#1c1c1c" stroke-width="1.1"/>
<path d="M233.9,812.5 C235,812.8 238,813.2 240,814 C241.9,814.8 243.7,816.3 244.6,816.9" fill="none" stroke="#1c1c1c" stroke-width="1.2"/>
<ellipse cx="260.3" cy="789.8" rx="5" ry="1.9" transform="rotate(-18 260.3 789.8)" fill="none" stroke="#1c1c1c" stroke-width="1.4"/>
<path d="M255.6,791.8 L259.9,802.8" fill="none" stroke="#1c1c1c" stroke-width="1.4"/>
<path d="M265.1,788.7 L267.9,799.6" fill="none" stroke="#1c1c1c" stroke-width="1.4"/>
<path d="M257.5,801.8 C259.2,802.2 263.4,802.1 266.6,804.2 C269.7,806.3 272.1,808.8 274.7,813.3 C277.4,817.7 279.2,822.4 281,828.4 C282.9,834.3 283.3,840.3 284.7,845.6 C286.1,850.9 286.8,854.3 288.4,857.1 C290.1,859.9 292.6,860.4 293.6,861.1" fill="none" stroke="#1c1c1c" stroke-width="1.3"/>
<path d="M263.6,805.6 C265.1,807.7 269.4,812.7 271.6,816.9 C273.7,821 274.6,826.2 275.3,828.4" fill="none" stroke="#1c1c1c" stroke-width="1.1"/>
<path d="M243,815.4 C244.2,816.7 247.8,819.9 249.3,822.6 C250.8,825.3 251.5,826.9 251.4,830.1 C251.3,833.2 249.4,835.6 248.8,839.9 C248.1,844.1 248,850.7 247.8,853.1" fill="none" stroke="#1c1c1c" stroke-width="1.2"/>
<path d="M249.2,821.2 C249.8,822 251.9,824 252.4,825.5 C252.9,826.9 251.9,828.4 251.8,829.1" fill="none" stroke="#1c1c1c" stroke-width="1"/>
<path d="M275,811 C275.8,813.8 277.9,819.4 279.5,826 C281.1,832.6 282.2,840.3 284,847 C285.8,853.7 288.3,859.5 289.2,862.3" fill="none" stroke="#1c1c1c" stroke-width="1.2"/>
<path d="M264.5,811 C265.9,812.6 269.9,816.6 272,820 C274.1,823.4 275.1,827.6 275.8,829.3" fill="none" stroke="#1c1c1c" stroke-width="1.1"/>
<path d="M289.2,862.8 C290.8,863.5 294.1,863.9 297.5,866.8 C300.9,869.7 303.5,873.5 308,878.5 C312.5,883.5 319.3,891 321.8,893.8" fill="none" stroke="#1c1c1c" stroke-width="1.2"/>
<path d="M321.8,893.8 L335.9,884.5" fill="none" stroke="#1c1c1c" stroke-width="1.2"/>
<path d="M289.2,862.8 C287.2,864.3 281.3,867.3 278,871 C274.7,874.7 273.2,878.6 271.4,883 C269.6,887.4 268.6,891.1 268.4,895 C268.2,898.9 269,900.9 270.5,904.3 C272,907.7 274,910.3 276.8,913.3 C279.6,916.3 284.1,919.4 285.8,920.8" fill="none" stroke="#1c1c1c" stroke-width="1.2"/>
<path d="M251,922.3 L270.5,901.3 L285.8,921.4" fill="none" stroke="#1c1c1c" stroke-width="1.4"/>
<path d="M261.5,916 L268.2,902.5" fill="none" stroke="#1c1c1c" stroke-width="1.3"/>
<path d="M265.2,916 L272,907" fill="none" stroke="#1c1c1c" stroke-width="1.3"/>
<path d="M272,907 L278,916" fill="none" stroke="#1c1c1c" stroke-width="1.1"/>
<path d="M269,914.5 L281,919" fill="none" stroke="#1c1c1c" stroke-width="1.1"/>
<path d="M240.5,871 L267.5,892" fill="none" stroke="#1c1c1c" stroke-width="1.3"/>
<path d="M243.5,860.8 L266.3,881.8" fill="none" stroke="#1c1c1c" stroke-width="1.3"/>
<path d="M245,874 L251,866.5" fill="none" stroke="#1c1c1c" stroke-width="1.1"/>
<path d="M251,878.5 L255.5,870.2" fill="none" stroke="#1c1c1c" stroke-width="1.1"/>
<path d="M256.2,883 L260.8,875.5" fill="none" stroke="#1c1c1c" stroke-width="1.1"/>
<path d="M249.5,867.2 L257,881.5" fill="none" stroke="#1c1c1c" stroke-width="1.1"/>
<path d="M255.5,871 L263,886" fill="none" stroke="#1c1c1c" stroke-width="1.1"/>
<path d="M236,895 C237.7,894.5 242,891.5 245,892 C248,892.5 250.3,895.2 252.5,898 C254.7,900.8 256.2,905.4 257,907" fill="none" stroke="#1c1c1c" stroke-width="1.2"/>
<path d="M248,907 C248.8,905.9 250.4,901.8 252.5,901 C254.6,900.2 257.3,901.1 259.2,902.5 C261.2,903.9 262.3,907.4 263,908.5" fill="none" stroke="#1c1c1c" stroke-width="1.2"/>
<path d="M227,896.5 C228.7,897 233.2,897.3 236,899.5 C238.8,901.7 241.2,904.9 242,908.5 C242.8,912.1 240.8,917.1 240.5,919" fill="none" stroke="#1c1c1c" stroke-width="1.2"/>
<path d="M257.8,904 L262.2,907" fill="none" stroke="#1c1c1c" stroke-width="1.5"/>
<path d="M259.2,908.5 L263,904.8" fill="none" stroke="#1c1c1c" stroke-width="1.3"/>
<path d="M230,817 L248,815.5 L254,829" fill="none" stroke="#1c1c1c" stroke-width="1.3"/>
<path d="M248,817 L242,848.5" fill="none" stroke="#1c1c1c" stroke-width="1.1"/>
<path d="M249.5,845.5 L248,856" fill="none" stroke="#1c1c1c" stroke-width="1.1"/>
<path d="M155.2,854.8 C156.1,852.3 158.1,845.7 160.4,841 C162.7,836.3 164.6,833.1 167.9,829 C171.2,824.9 173.7,821.3 178.4,818.8 C183.1,816.3 188.5,816.4 193.4,815.5 C198.3,814.6 201.3,813.7 205.4,814 C209.5,814.3 214,816.5 215.9,817" fill="none" stroke="#1c1c1c" stroke-width="1.3"/>
<path d="M193.4,838.3 C196.7,837.4 205.6,834.8 211.4,833.5 C217.2,832.2 222.4,831.7 224.9,831.2" fill="none" stroke="#1c1c1c" stroke-width="1.2"/>
<path d="M191.9,837.2 C192.9,836.8 195.2,835.7 197.2,835 C199.1,834.3 199.8,834.4 202.4,833.5 C205,832.6 209.8,830.8 211.4,830.2" fill="none" stroke="#1c1c1c" stroke-width="1.1"/>
<path d="M193.4,833.5 L197.2,835.8 L199.4,828.2 L202.4,833.5 L206.2,826 L207.7,832" fill="none" stroke="#1c1c1c" stroke-width="1"/>
<path d="M154.4,887.8 C156.6,886.6 161.5,883.5 166.4,881.5 C171.3,879.5 176.5,878.6 181.4,877 C186.3,875.4 189.8,874.4 193.4,872.5 C197,870.6 198.2,869.8 200.9,866.5 C203.7,863.2 205.4,858.3 208.4,854.5 C211.4,850.7 214.4,848.3 217.4,845.8 C220.4,843.3 223.5,841.9 224.9,841" fill="none" stroke="#1c1c1c" stroke-width="1.3"/>
<path d="M196.4,871 C197.5,871.5 200.2,874 202.4,874 C204.6,874 206.8,873.5 208.4,871 C210.1,868.5 210.8,862.4 211.4,860.5" fill="none" stroke="#1c1c1c" stroke-width="1.1"/>
<path d="M142.4,866.8 C143.6,868.1 147.3,870.5 149.1,874 C151,877.5 151.9,881 152.3,886 C152.7,891 152.1,897.1 151.4,901 C150.7,904.9 148.9,905.9 148.4,907" fill="none" stroke="#1c1c1c" stroke-width="1.3"/>
<path d="M106.4,870.2 L155.2,855.1" fill="none" stroke="#1c1c1c" stroke-width="1.2"/>
<path d="M109.4,875.8 L144.2,865.9" fill="none" stroke="#1c1c1c" stroke-width="1.2"/>
<path d="M112.4,922.9 L149.9,905.5" fill="none" stroke="#1c1c1c" stroke-width="1.2"/>
<path d="M143.9,908.5 L144.8,917.8" fill="none" stroke="#1c1c1c" stroke-width="1"/>
<path d="M124.4,867.2 L128.1,863.8" fill="none" stroke="#1c1c1c" stroke-width="1.8"/>
<path d="M131.1,865 L134.9,862.8" fill="none" stroke="#1c1c1c" stroke-width="1.5"/>
<path d="M153.7,889.3 C154.9,888.5 157,886.2 160.4,884.8 C163.8,883.4 168.8,882.4 172.4,881.8 C176,881.2 178.8,881.6 180.2,881.5" fill="none" stroke="#1c1c1c" stroke-width="1.3"/>
<path d="M153.8,890.2 C154.2,891.1 154.4,893.7 156.2,895.3 C158,896.9 160.4,898.4 163.4,898.9 C166.4,899.4 169.7,899 172.4,898 C175.2,897 176.9,895.4 178.4,893.2 C179.9,891 180,888.1 180.3,886 C180.7,883.9 180.2,882.6 180.2,881.8" fill="none" stroke="#1c1c1c" stroke-width="1.5"/>
<path d="M157.4,890 C158.8,889.4 161.5,887.6 164.9,886.6 C168.3,885.6 174,884.9 176,884.5" fill="none" stroke="#1c1c1c" stroke-width="1.1"/>
<path d="M157.4,890.5 C158,891.1 158.7,892.9 160.4,893.8 C162.1,894.7 164.4,895.6 166.7,895.6 C169,895.6 171.3,895 173.2,893.8 C175,892.6 176.3,890.9 176.9,889.3 C177.5,887.6 176.4,885.6 176.3,884.8" fill="none" stroke="#1c1c1c" stroke-width="1.2"/>
<path d="M185.9,880.9 C187.6,880.4 191.5,878.2 194.9,877.9 C198.3,877.6 202.5,879.1 204.2,879.4" fill="none" stroke="#1c1c1c" stroke-width="1.2"/>
<path d="M187.4,884.8 C188.8,885.1 191.7,886.6 194.9,886.3 C198.1,886 203,883.6 204.8,883" fill="none" stroke="#1c1c1c" stroke-width="1.3"/>
<path d="M188.9,889 C190.3,889.3 193.3,891.2 196.4,890.8 C199.5,890.4 204,887.6 205.7,886.9" fill="none" stroke="#1c1c1c" stroke-width="1.3"/>
<path d="M191.9,892.9 C193.3,893.1 197.1,894.1 199.4,893.8 C201.7,893.5 203.7,891.7 204.7,891.2" fill="none" stroke="#1c1c1c" stroke-width="1.1"/>
<path d="M184.4,881.5 C184.5,882.9 184.1,886.5 185.2,889 C186.2,891.5 189.4,893.9 190.4,895" fill="none" stroke="#1c1c1c" stroke-width="1.1"/>
<path d="M169.4,902.8 C170.8,902.2 173.6,899.8 176.9,899.5 C180.2,899.2 183.8,899.9 187.4,901 C191,902.1 193.9,903.5 196.4,905.5 C198.9,907.5 200.3,910.6 201.2,911.8" fill="none" stroke="#1c1c1c" stroke-width="1.2"/>
<path d="M158.9,916 C159.7,914.6 161.2,910.4 163.4,908.5 C165.6,906.6 168.7,905.5 170.9,905.5 C173.1,905.5 174.6,908 175.4,908.5" fill="none" stroke="#1c1c1c" stroke-width="1.2"/>
<path d="M149.9,929.5 C151,928.2 153.2,923.9 155.9,922.3 C158.7,920.6 161.9,920.7 164.9,920.5 C167.9,920.3 171,921.2 172.4,921.4" fill="none" stroke="#1c1c1c" stroke-width="1.2"/>
<path d="M137.9,937.3 L146.9,935.5" fill="none" stroke="#1c1c1c" stroke-width="1.1"/>
<path d="M142.4,937.3 C143.1,938.9 145,942.7 146.1,946 C147.3,949.3 148.2,953.6 148.7,955.3" fill="none" stroke="#1c1c1c" stroke-width="1.2"/>
<path d="M137.1,962.8 L149.1,957.4 L160.4,953.5" fill="none" stroke="#1c1c1c" stroke-width="1.2"/>
<path d="M156.7,923.8 C157.3,926.8 159.2,934.9 160.4,940.3 C161.6,945.7 162.8,951.1 163.4,953.5" fill="none" stroke="#1c1c1c" stroke-width="1.1"/>
<path d="M170.9,921.4 L156.7,964.3" fill="none" stroke="#1c1c1c" stroke-width="1.3"/>
<path d="M174.8,921.4 L161.3,965.8" fill="none" stroke="#1c1c1c" stroke-width="1.3"/>
<path d="M175.4,919.3 C176.7,915.5 178.1,914.7 181.4,913.3 C184.7,911.9 189.8,910.4 193.4,911.5 C197,912.6 199.2,915.7 200.9,919.3 C202.6,922.9 203.4,926.7 202.4,931 C201.4,935.3 198.2,939.4 195.2,943 C192.2,946.6 189.2,950 186.2,950.5 C183.2,951 180.9,949 178.7,946 C176.5,943 174.8,938.9 174.2,934 C173.6,929.1 174.1,923.1 175.4,919.3 Z" fill="none" stroke="#1c1c1c" stroke-width="1.3"/>
<path d="M182.9,935.8 C183.7,934.9 185.5,931 187.4,931 C189.3,931 192.3,934.9 193.4,935.8" fill="none" stroke="#1c1c1c" stroke-width="1.3"/>
<path d="M190.4,938.8 C191,939 192.5,939.2 193.4,940 C194.3,940.8 194.9,942.7 195.2,943.3" fill="none" stroke="#1c1c1c" stroke-width="1.5"/>
<path d="M181.4,943 C182.1,943.7 183.8,946.2 185.2,946.8 C186.5,947.3 188.2,946.1 188.9,946" fill="none" stroke="#1c1c1c" stroke-width="1.1"/>
<path d="M200.9,910 C201.7,909.5 203.8,907.3 205.4,907 C207.1,906.7 209.1,908.2 209.9,908.5" fill="none" stroke="#1c1c1c" stroke-width="1.1"/>
<path d="M149.8,926.5 C150.9,925.8 153.5,923.6 156,922.8 C158.5,921.9 162.1,922.2 163.5,922.1" fill="none" stroke="#1c1c1c" stroke-width="1.2"/>
<path d="M157.9,918.4 C158.4,916.9 159.1,912.4 161,910.2 C162.9,908.1 166.4,906.3 168.5,906.5 C170.6,906.7 171.6,910.6 172.2,911.5" fill="none" stroke="#1c1c1c" stroke-width="1.2"/>
<path d="M151,926.5 C151.7,928.8 153.5,934 154.8,939 C156,944 157.3,951.2 157.9,954" fill="none" stroke="#1c1c1c" stroke-width="1.1"/>
<path d="M184.8,911.5 C185.9,913.3 188.9,917.8 191,921.5 C193.1,925.2 194.6,928.4 196,931.5 C197.4,934.6 198,937.1 198.5,938.4" fill="none" stroke="#1c1c1c" stroke-width="1.2"/>
<path d="M191.6,935.9 L194.1,942.8" fill="none" stroke="#1c1c1c" stroke-width="2.2"/>
<path d="M181.6,934 L184.1,939" fill="none" stroke="#1c1c1c" stroke-width="1.8"/>
<path d="M181,949 L186,947.8" fill="none" stroke="#1c1c1c" stroke-width="1.5"/>
<path d="M171,900.2 C172.8,899.8 177.6,897.5 181,897.8 C184.4,898 186.5,900.4 189.8,901.5 C193,902.6 196.4,902.4 198.5,904 C200.6,905.6 200.5,909.1 201,910.2" fill="none" stroke="#1c1c1c" stroke-width="1.1"/>
<path d="M144.8,954 L147.2,959" fill="none" stroke="#1c1c1c" stroke-width="1.4"/>
<path d="M156,954 L157.9,957.1" fill="none" stroke="#1c1c1c" stroke-width="1.4"/>
<path d="M159.8,920.2 C160.2,921.4 162,924 162.2,926.5 C162.5,929 161.2,932.6 161,934" fill="none" stroke="#1c1c1c" stroke-width="1.1"/>
<path d="M174.8,926.5 C175.4,928.3 177.4,933.1 178.5,936.5 C179.6,939.9 180.5,943.6 181,945.2" fill="none" stroke="#1c1c1c" stroke-width="1.1"/>
<path d="M186,930.2 C186.5,929.6 187.4,926.7 188.5,926.5 C189.6,926.3 191.6,928.5 192.3,929" fill="none" stroke="#1c1c1c" stroke-width="1.4"/>
<path d="M181,944 C181.7,943.8 183.6,942.5 184.8,942.8 C185.9,943 186.8,944.8 187.2,945.2" fill="none" stroke="#1c1c1c" stroke-width="1.7"/>
<path d="M151,941.5 L154.1,944" fill="none" stroke="#1c1c1c" stroke-width="1.3"/>
<path d="M147.2,926.5 L151,930.2" fill="none" stroke="#1c1c1c" stroke-width="1.1"/>
<path d="M172.2,904 C172.9,904.9 175.5,907.2 176,909 C176.5,910.8 175,913.1 174.8,914" fill="none" stroke="#1c1c1c" stroke-width="1.1"/>
<path d="M202.4,932.8 L217.4,925.9" fill="none" stroke="#1c1c1c" stroke-width="1.1"/>
<path d="M212.9,931.3 L219.2,938.5" fill="none" stroke="#1c1c1c" stroke-width="1"/>
<path d="M215.2,850.4 C215.1,853.7 214.7,862.1 214.4,868.5 C214.2,874.9 213.9,882.2 213.8,885.3" fill="none" stroke="#1c1c1c" stroke-width="2.9"/>
<path d="M211,854 C210.9,856.2 210.6,862.1 210.6,866.1 C210.5,870 210.7,873.9 210.7,875.7" fill="none" stroke="#1c1c1c" stroke-width="1.3"/>
<path d="M226.2,841 L232.1,839.4" fill="none" stroke="#1c1c1c" stroke-width="1.3"/>
<path d="M225.1,845.9 L231,844.2" fill="none" stroke="#1c1c1c" stroke-width="1.3"/>
<path d="M224,850.7 L230,849" fill="none" stroke="#1c1c1c" stroke-width="1.3"/>
<path d="M223,855.5 L228.9,853.8" fill="none" stroke="#1c1c1c" stroke-width="1.3"/>
<path d="M221.9,860.3 L227.8,858.6" fill="none" stroke="#1c1c1c" stroke-width="1.3"/>
<path d="M220.8,865.1 L226.8,863.4" fill="none" stroke="#1c1c1c" stroke-width="1.3"/>
<path d="M204.6,868.6 C205.2,869.7 207.5,872.2 207.8,874.4 C208.2,876.5 206.8,879 206.6,880.1" fill="none" stroke="#1c1c1c" stroke-width="1.1"/>
<ellipse cx="227.4" cy="913.9" rx="10.8" ry="10.5" transform="rotate(0 227.4 913.9)" fill="none" stroke="#1c1c1c" stroke-width="1.4"/>
<path d="M226.4,890.2 C227.8,891 231.9,892.1 234.1,894.5 C236.4,896.8 237.6,899.7 238.6,903.1 C239.7,906.5 240.2,909.7 239.6,913.2 C239.1,916.6 237.9,920.1 235.5,922.1 C233.1,924 229.4,924.3 226.6,923.8 C223.7,923.3 221.3,920 220.1,919.2" fill="none" stroke="#1c1c1c" stroke-width="4.2"/>
<path d="M216.6,906.7 C217.4,907.1 219.3,909 221.2,909.1 C223.1,909.3 226,908 227.1,907.7" fill="none" stroke="#1c1c1c" stroke-width="2"/>
<path d="M220.8,919.6 C221.7,920.1 223.6,921.8 225.4,922.1 C227.2,922.3 229.7,921.3 230.7,921.1" fill="none" stroke="#1c1c1c" stroke-width="2.4"/>
<path d="M217.4,908.9 L219.3,917.5" fill="none" stroke="#1c1c1c" stroke-width="1.8"/>
<path d="M228.7,908.9 L232,917.5" fill="none" stroke="#1c1c1c" stroke-width="1.5"/>
<path d="M223.6,894.5 C224.9,895.1 228.6,896.1 230.5,898.1 C232.4,900 233.1,902.5 233.8,905.3 C234.4,908 234,911.7 234.1,913.2" fill="none" stroke="#1c1c1c" stroke-width="2.2"/>
<ellipse cx="224.4" cy="914.6" rx="4.8" ry="5.7" transform="rotate(0 224.4 914.6)" fill="none" stroke="#1c1c1c" stroke-width="1.5"/>
<path d="M220.5,911 L223,918.2" fill="none" stroke="#1c1c1c" stroke-width="1.1"/>
<path d="M222,911.6 L224.5,917.8" fill="none" stroke="#1c1c1c" stroke-width="1.1"/>
<path d="M223.6,912.2 L226,917.3" fill="none" stroke="#1c1c1c" stroke-width="1.1"/>
<path d="M225.1,912.7 L227.5,916.9" fill="none" stroke="#1c1c1c" stroke-width="1.1"/>
<path d="M226.6,913.3 L229,916.5" fill="none" stroke="#1c1c1c" stroke-width="1.1"/>
<path d="M215.8,905.3 C216,907 215.5,911.4 216.9,914.6 C218.3,917.8 222.1,921.1 223.2,922.5" fill="none" stroke="#1c1c1c" stroke-width="1.8"/>
<path d="M220.2,923.2 C221.6,923.9 224.6,926.7 227.9,926.8 C231.2,927 236.4,924.5 238.3,923.9" fill="none" stroke="#1c1c1c" stroke-width="1.8"/>
<path d="M240.1,894.5 C241.7,893.7 245.7,890.5 249,890.5 C252.3,890.5 255.8,892.1 258.1,894.5 C260.5,896.8 262.1,900.2 261.8,903.4 C261.4,906.6 258.8,909.9 256.1,912 C253.4,914.1 248.8,914.4 247.2,914.9" fill="none" stroke="#1c1c1c" stroke-width="1.2"/>
<path d="M246.3,898.8 C247.4,898.5 250.5,896.6 252.2,897.4 C253.9,898.1 255.4,901 255.4,903.1 C255.5,905.2 253.2,907.8 252.7,908.9" fill="none" stroke="#1c1c1c" stroke-width="1.1"/>
<path d="M210.1,894.5 C209.6,895.5 207.3,898.6 207.3,900.2 C207.4,901.8 209.9,902.6 210.4,903.1" fill="none" stroke="#1c1c1c" stroke-width="1.1"/>
</g>
<path d="M282,946.8 L346.8,908.5" fill="none" stroke="#1c1c1c" stroke-width="1.2"/>
<path d="M220,932.4 L253.6,918.3 L282,917.4 L291.7,920.2" fill="none" stroke="#1c1c1c" stroke-width="1.1"/>
<path d="M220,945 L258.1,925.5 L289.9,921.1" fill="none" stroke="#1c1c1c" stroke-width="1.1"/>
<path d="M191,950.5 L239,928" fill="none" stroke="#1c1c1c" stroke-width="1.1"/>
<path d="M211.2,951.4 L239,937.9" fill="none" stroke="#1c1c1c" stroke-width="1.1"/>
</g>
</g>
<rect x="67.2" y="86.8" width="314.1" height="204" fill="none" stroke="#111" stroke-width="1.7"/>
<rect x="67.2" y="313.2" width="314.6" height="203.9" fill="none" stroke="#111" stroke-width="1.7"/>
<rect x="67.2" y="539.6" width="314.6" height="203.4" fill="none" stroke="#111" stroke-width="1.7"/>
<rect x="67.2" y="765.6" width="314.4" height="204" fill="none" stroke="#111" stroke-width="1.7"/>
<g fill="none" stroke="#c4c4c4" stroke-width="1"><path d="M489,113.5 q4,-2 6.5,1 q1.5,4 -2,7 q-3,1.500 -5,-1"/><path d="M488.500,313.500 l6.500,5.500 l-5.500,6.500"/><path d="M487,311 q3,-1.500 6,0.500" stroke="#dadada"/></g>
</svg>
<div class="t" style="left:405.3px;top:82.39px;word-spacing:0.15px;">(d) Remove the adjusting shim.</div>
<div class="t" style="left:428.0px;top:104.92px;word-spacing:2.76px;">Turn the crankshaft to position the cam lobe of the</div>
<div class="bu" style="left:405.7px;top:112.73px"></div>
<div class="t" style="left:428.0px;top:127.46px;word-spacing:0.28px;">camshaft on the adjusting valve upward.</div>
<div class="t" style="left:428.0px;top:149.99px;word-spacing:0.19px;">Press down the valve lifter with SST (A), and place</div>
<div class="bu" style="left:405.7px;top:157.81px"></div>
<div class="t" style="left:428.0px;top:172.53px;word-spacing:0.29px;">SST (B) between the camshaft and valve lifter.</div>
<div class="t" style="left:428.0px;top:195.06px;word-spacing:-0.06px;">Remove SST (A).</div>
<div class="t" style="left:428.0px;top:217.60px;word-spacing:1.61px;">SST 09248–55010</div>
<div class="t" style="left:405.3px;top:240.13px;word-spacing:0.18px;">HINT: Before pressing down the valve lifter, position the</div>
<div class="t" style="left:405.3px;top:262.67px;word-spacing:0.04px;">notch the spark plug.</div>
<div class="t" style="left:428.0px;top:307.74px;letter-spacing:-0.196px;">Remove the adjusting shim with a small screw-</div>
<div class="bu" style="left:405.7px;top:315.55px"></div>
<div class="t" style="left:428.0px;top:330.27px;word-spacing:0.18px;">driver and magnetic finger.</div>
<div class="t" style="left:405.3px;top:533.99px;letter-spacing:-0.221px;">(e) Determine the replacement adjusting shim size by following</div>
<div class="t" style="left:442.5px;top:556.47px;word-spacing:0.31px;">the Formula or Charts:</div>
<div class="t" style="left:428.0px;top:578.96px;word-spacing:0.18px;">Using a micrometer, measure the thickness of the.</div>
<div class="bu" style="left:405.7px;top:586.77px"></div>
<div class="t" style="left:428.0px;top:601.45px;word-spacing:-0.78px;">removed shim.</div>
<div class="t" style="left:428.0px;top:623.93px;word-spacing:0.23px;">Calculate the thickness of a new shim so that the.</div>
<div class="bu" style="left:405.7px;top:631.74px"></div>
<div class="t" style="left:428.0px;top:646.42px;word-spacing:0.09px;">valve clearance comes within specified value.</div>
<div class="t" style="left:428.0px;top:668.90px;word-spacing:0.07px;"><span style="font-weight:bold">T .......... Thickness of used shim</span></div>
<div class="t" style="left:428.0px;top:691.39px;word-spacing:0.54px;"><span style="font-weight:bold">A .......... Measured valve clearance</span></div>
<div class="t" style="left:428.0px;top:713.88px;word-spacing:0.14px;"><span style="font-weight:bold">N .......... Thickness of new shim</span></div>
<div class="t" style="left:428.0px;top:736.36px;word-spacing:0.09px;"><span style="font-weight:bold">Intake N = T + (A – 0.18 mm (0.007 in.) )</span></div>
<div class="t" style="left:428.0px;top:758.85px;word-spacing:0.15px;"><span style="font-weight:bold">Exhaust N = T + (A – 0.32 mm (0.013 in.))</span></div>
<div class="t" style="left:428.0px;top:781.33px;letter-spacing:-0.075px;">Select a new. shim with a thickness as close as possible to</div>
<div class="bu" style="left:405.7px;top:789.15px"></div>
<div class="t" style="left:428.0px;top:803.82px;letter-spacing:-0.089px;">the calculated values.</div>
<div class="t" style="left:405.3px;top:826.31px;word-spacing:0.27px;">HINT: Shims are available in seventeen sizes of 0.05</div>
<div class="t" style="left:405.3px;top:848.79px;word-spacing:0.14px;">mm (0.0020 in.), from 2.50 mm (0.0984 in.) to 3.30 mm</div>
<div class="t" style="left:405.3px;top:871.28px;word-spacing:0.11px;">(0.1299 in.).</div>
<div class="t" style="left:405.3px;top:893.76px;word-spacing:0.10px;">(f) Install a new adjusting shim.</div>
<div class="t" style="left:428.0px;top:916.25px;word-spacing:0.24px;">Place a new adjusting shim on the valve lifter.</div>
<div class="bu" style="left:405.7px;top:924.06px"></div>
<div class="t" style="left:428.0px;top:938.74px;word-spacing:0.18px;">Press down the valve lifter with SST (A), and remove SST</div>
<div class="bu" style="left:405.7px;top:946.55px"></div>
<div class="t" style="left:428.0px;top:961.22px;letter-spacing:-0.316px;">(B).</div>
<div class="t" style="left:428.0px;top:983.71px;word-spacing:1.61px;">SST 09248–55010</div>
<div class="t" style="left:405.3px;top:1006.19px;word-spacing:0.13px;">(g) Recheck the valve clearance.</div>
<div class="t" style="left:405.3px;top:1028.68px;word-spacing:-0.23px;"><span style="font-weight:bold">5. REINSTALL CYLINDER HEAD COVERS</span></div>
<div class="t" style="left:405.3px;top:1051.17px;word-spacing:0.31px;"><span style="font-weight:bold">(See step 8 on page </span><span style="color:#0000ff">EM–102</span><span style="font-weight:bold">)</span></div>
<div class="t" style="left:405.3px;top:1073.65px;"><span style="font-weight:bold">6. REINSTALL AIR INTAKE CHAMBER</span></div>
<div class="t" style="left:405.3px;top:1096.14px;word-spacing:0.30px;"><span style="font-weight:bold">(See steps 18 to 40 pages </span><span style="color:#0000ff">FI–105</span><span style="font-weight:bold"> to 106)</span></div>
<div class="wm">carmanualsonline.info</div>
</div></body></html>
